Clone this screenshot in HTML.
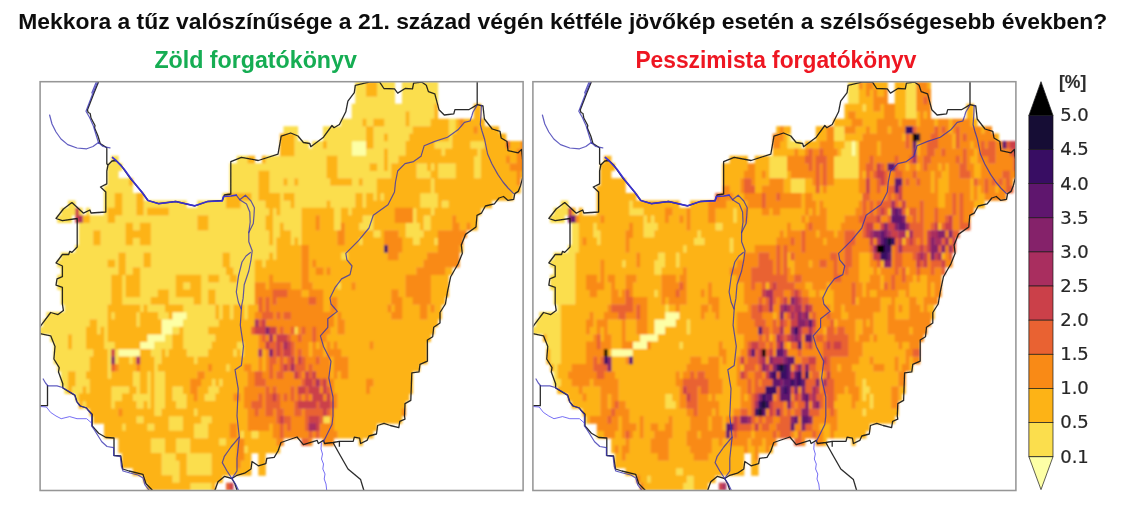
<!DOCTYPE html>
<html lang="hu"><head><meta charset="utf-8"><title>Tűz valószínűsége</title>
<style>html,body{margin:0;padding:0;background:#fff}svg{display:block}text{font-family:"Liberation Sans",sans-serif}.tk{font-family:"DejaVu Sans","Liberation Sans",sans-serif;font-size:18px;fill:#262626;stroke:#262626;stroke-width:.2px}</style></head><body>
<svg width="1133" height="529" viewBox="0 0 1133 529">
<defs>
<clipPath id="cl"><rect x="40.1" y="81.7" width="483.0" height="408.8"/></clipPath>
<clipPath id="cr"><rect x="532.9" y="81.7" width="483.0" height="408.8"/></clipPath>
<filter id="bl" x="-2%" y="-2%" width="104%" height="104%"><feGaussianBlur stdDeviation="0.8"/></filter>
<filter id="bf" x="-2%" y="-2%" width="104%" height="104%"><feGaussianBlur stdDeviation="0.4"/></filter>
<filter id="bs" x="-2%" y="-2%" width="104%" height="104%"><feGaussianBlur stdDeviation="0.6"/></filter>
<filter id="bt" x="-2%" y="-20%" width="104%" height="140%"><feGaussianBlur stdDeviation="0.55"/></filter>
</defs>
<rect width="1133" height="529" fill="#fff"/>
<g filter="url(#bt)">
<text x="18.3" y="29.2" font-size="22.6" font-weight="700" fill="#111" textLength="1089" lengthAdjust="spacingAndGlyphs">Mekkora a tűz valószínűsége a 21. század végén kétféle jövőkép esetén a szélsőségesebb években?</text>
<text x="154.4" y="67.9" font-size="23.5" font-weight="700" fill="#13ad52" textLength="202.5" lengthAdjust="spacingAndGlyphs">Zöld forgatókönyv</text>
<text x="635.4" y="67.9" font-size="23.5" font-weight="700" fill="#ee1620" textLength="281" lengthAdjust="spacingAndGlyphs">Pesszimista forgatókönyv</text>
<text x="1059" y="88.4" font-size="18.6" font-weight="700" fill="#2e2e2e" stroke="#2e2e2e" stroke-width=".15" textLength="27.3" lengthAdjust="spacingAndGlyphs">[%]</text>
</g>
<g clip-path="url(#cl)"><g filter="url(#bl)">
<path fill="#fdffa6" d="M351.68 140.99h14.66v7.73h-14.66zM351.68 148.42h14.66v7.73h-14.66zM172.18 311.88h14.66v7.73h-14.66zM161.41 319.31h21.84v7.73h-21.84zM161.41 326.74h11.07v7.73h-11.07zM147.05 334.17h18.25v7.73h-18.25zM139.87 341.60h14.66v7.73h-14.66zM118.33 349.03h21.84v7.73h-21.84z"/>
<path fill="#fbde4e" d="M355.27 81.55h11.07v7.73h-11.07zM376.81 81.55h18.25v7.73h-18.25zM401.94 81.55h36.20v7.73h-36.20zM355.27 88.98h11.07v7.73h-11.07zM376.81 88.98h18.25v7.73h-18.25zM401.94 88.98h36.20v7.73h-36.20zM355.27 96.41h39.79v7.73h-39.79zM401.94 96.41h36.20v7.73h-36.20zM351.68 103.84h82.87v7.73h-82.87zM351.68 111.27h54.15v7.73h-54.15zM409.12 111.27h25.43v7.73h-25.43zM340.91 118.70h21.84v7.73h-21.84zM366.04 118.70h7.48v7.73h-7.48zM383.99 118.70h21.84v7.73h-21.84zM409.12 118.70h21.84v7.73h-21.84zM448.61 118.70h7.48v7.73h-7.48zM283.47 126.13h14.66v7.73h-14.66zM322.96 126.13h43.38v7.73h-43.38zM373.22 126.13h39.79v7.73h-39.79zM448.61 126.13h7.48v7.73h-7.48zM294.24 133.56h3.89v7.73h-3.89zM322.96 133.56h43.38v7.73h-43.38zM373.22 133.56h11.07v7.73h-11.07zM387.58 133.56h21.84v7.73h-21.84zM448.61 133.56h3.89v7.73h-3.89zM294.24 140.99h14.66v7.73h-14.66zM312.19 140.99h11.07v7.73h-11.07zM326.55 140.99h25.43v7.73h-25.43zM373.22 140.99h32.61v7.73h-32.61zM434.25 140.99h18.25v7.73h-18.25zM470.15 140.99h14.66v7.73h-14.66zM294.24 148.42h57.74v7.73h-57.74zM366.04 148.42h18.25v7.73h-18.25zM387.58 148.42h18.25v7.73h-18.25zM441.43 148.42h3.89v7.73h-3.89zM477.33 148.42h3.89v7.73h-3.89zM111.15 155.85h7.48v7.73h-7.48zM236.80 155.85h11.07v7.73h-11.07zM265.52 155.85h61.33v7.73h-61.33zM337.32 155.85h46.97v7.73h-46.97zM387.58 155.85h11.07v7.73h-11.07zM473.74 155.85h7.48v7.73h-7.48zM107.56 163.28h14.66v7.73h-14.66zM229.62 163.28h97.23v7.73h-97.23zM337.32 163.28h32.61v7.73h-32.61zM376.81 163.28h7.48v7.73h-7.48zM387.58 163.28h3.89v7.73h-3.89zM416.30 163.28h11.07v7.73h-11.07zM430.66 163.28h3.89v7.73h-3.89zM437.84 163.28h18.25v7.73h-18.25zM473.74 163.28h7.48v7.73h-7.48zM107.56 170.71h11.07v7.73h-11.07zM229.62 170.71h29.02v7.73h-29.02zM269.11 170.71h57.74v7.73h-57.74zM337.32 170.71h54.15v7.73h-54.15zM416.30 170.71h14.66v7.73h-14.66zM437.84 170.71h18.25v7.73h-18.25zM473.74 170.71h7.48v7.73h-7.48zM107.56 178.14h21.84v7.73h-21.84zM229.62 178.14h29.02v7.73h-29.02zM269.11 178.14h14.66v7.73h-14.66zM287.06 178.14h7.48v7.73h-7.48zM297.83 178.14h32.61v7.73h-32.61zM351.68 178.14h7.48v7.73h-7.48zM362.45 178.14h14.66v7.73h-14.66zM430.66 178.14h3.89v7.73h-3.89zM103.97 185.57h29.02v7.73h-29.02zM229.62 185.57h29.02v7.73h-29.02zM269.11 185.57h108.00v7.73h-108.00zM430.66 185.57h3.89v7.73h-3.89zM103.97 193.00h11.07v7.73h-11.07zM121.92 193.00h14.66v7.73h-14.66zM222.44 193.00h3.89v7.73h-3.89zM251.16 193.00h7.48v7.73h-7.48zM279.88 193.00h3.89v7.73h-3.89zM294.24 193.00h61.33v7.73h-61.33zM362.45 193.00h3.89v7.73h-3.89zM373.22 193.00h3.89v7.73h-3.89zM380.40 193.00h3.89v7.73h-3.89zM419.89 193.00h18.25v7.73h-18.25zM68.07 200.43h7.48v7.73h-7.48zM103.97 200.43h11.07v7.73h-11.07zM121.92 200.43h14.66v7.73h-14.66zM143.46 200.43h43.38v7.73h-43.38zM197.31 200.43h29.02v7.73h-29.02zM240.39 200.43h25.43v7.73h-25.43zM279.88 200.43h11.07v7.73h-11.07zM294.24 200.43h32.61v7.73h-32.61zM330.14 200.43h25.43v7.73h-25.43zM362.45 200.43h3.89v7.73h-3.89zM419.89 200.43h18.25v7.73h-18.25zM441.43 200.43h7.48v7.73h-7.48zM60.89 207.86h14.66v7.73h-14.66zM78.84 207.86h3.89v7.73h-3.89zM86.02 207.86h3.89v7.73h-3.89zM103.97 207.86h3.89v7.73h-3.89zM121.92 207.86h14.66v7.73h-14.66zM143.46 207.86h3.89v7.73h-3.89zM168.59 207.86h100.82v7.73h-100.82zM272.70 207.86h3.89v7.73h-3.89zM279.88 207.86h21.84v7.73h-21.84zM333.73 207.86h7.48v7.73h-7.48zM348.09 207.86h3.89v7.73h-3.89zM412.71 207.86h3.89v7.73h-3.89zM430.66 207.86h3.89v7.73h-3.89zM57.30 215.29h14.66v7.73h-14.66zM89.61 215.29h18.25v7.73h-18.25zM114.74 215.29h82.87v7.73h-82.87zM208.08 215.29h57.74v7.73h-57.74zM272.70 215.29h29.02v7.73h-29.02zM333.73 215.29h7.48v7.73h-7.48zM362.45 215.29h11.07v7.73h-11.07zM412.71 215.29h3.89v7.73h-3.89zM423.48 215.29h7.48v7.73h-7.48zM78.84 222.72h46.97v7.73h-46.97zM132.69 222.72h7.48v7.73h-7.48zM150.64 222.72h46.97v7.73h-46.97zM208.08 222.72h57.74v7.73h-57.74zM272.70 222.72h7.48v7.73h-7.48zM283.47 222.72h18.25v7.73h-18.25zM333.73 222.72h7.48v7.73h-7.48zM358.86 222.72h14.66v7.73h-14.66zM405.53 222.72h14.66v7.73h-14.66zM423.48 222.72h7.48v7.73h-7.48zM78.84 230.15h14.66v7.73h-14.66zM100.38 230.15h25.43v7.73h-25.43zM150.64 230.15h118.77v7.73h-118.77zM272.70 230.15h7.48v7.73h-7.48zM290.65 230.15h11.07v7.73h-11.07zM373.22 230.15h7.48v7.73h-7.48zM405.53 230.15h18.25v7.73h-18.25zM78.84 237.58h14.66v7.73h-14.66zM100.38 237.58h25.43v7.73h-25.43zM132.69 237.58h7.48v7.73h-7.48zM150.64 237.58h118.77v7.73h-118.77zM272.70 237.58h3.89v7.73h-3.89zM290.65 237.58h3.89v7.73h-3.89zM297.83 237.58h3.89v7.73h-3.89zM358.86 237.58h3.89v7.73h-3.89zM412.71 237.58h7.48v7.73h-7.48zM434.25 237.58h3.89v7.73h-3.89zM75.25 245.01h201.34v7.73h-201.34zM60.89 252.44h57.74v7.73h-57.74zM125.51 252.44h18.25v7.73h-18.25zM150.64 252.44h72.10v7.73h-72.10zM229.62 252.44h39.79v7.73h-39.79zM272.70 252.44h3.89v7.73h-3.89zM340.91 252.44h7.48v7.73h-7.48zM57.30 259.87h50.56v7.73h-50.56zM114.74 259.87h3.89v7.73h-3.89zM125.51 259.87h18.25v7.73h-18.25zM150.64 259.87h72.10v7.73h-72.10zM229.62 259.87h25.43v7.73h-25.43zM261.93 259.87h3.89v7.73h-3.89zM60.89 267.30h57.74v7.73h-57.74zM125.51 267.30h7.48v7.73h-7.48zM139.87 267.30h86.46v7.73h-86.46zM233.21 267.30h21.84v7.73h-21.84zM57.30 274.73h54.15v7.73h-54.15zM121.92 274.73h3.89v7.73h-3.89zM139.87 274.73h36.20v7.73h-36.20zM200.90 274.73h7.48v7.73h-7.48zM218.85 274.73h11.07v7.73h-11.07zM236.80 274.73h18.25v7.73h-18.25zM57.30 282.16h54.15v7.73h-54.15zM121.92 282.16h3.89v7.73h-3.89zM139.87 282.16h36.20v7.73h-36.20zM182.95 282.16h7.48v7.73h-7.48zM200.90 282.16h54.15v7.73h-54.15zM337.32 282.16h3.89v7.73h-3.89zM60.89 289.59h50.56v7.73h-50.56zM121.92 289.59h3.89v7.73h-3.89zM139.87 289.59h18.25v7.73h-18.25zM168.59 289.59h7.48v7.73h-7.48zM200.90 289.59h7.48v7.73h-7.48zM215.26 289.59h39.79v7.73h-39.79zM60.89 297.02h50.56v7.73h-50.56zM121.92 297.02h29.02v7.73h-29.02zM168.59 297.02h25.43v7.73h-25.43zM200.90 297.02h7.48v7.73h-7.48zM215.26 297.02h39.79v7.73h-39.79zM64.48 304.45h43.38v7.73h-43.38zM139.87 304.45h3.89v7.73h-3.89zM147.05 304.45h18.25v7.73h-18.25zM182.95 304.45h32.61v7.73h-32.61zM218.85 304.45h3.89v7.73h-3.89zM229.62 304.45h3.89v7.73h-3.89zM243.98 304.45h3.89v7.73h-3.89zM46.53 311.88h61.33v7.73h-61.33zM111.15 311.88h3.89v7.73h-3.89zM136.28 311.88h3.89v7.73h-3.89zM157.82 311.88h11.07v7.73h-11.07zM186.54 311.88h29.02v7.73h-29.02zM218.85 311.88h3.89v7.73h-3.89zM229.62 311.88h3.89v7.73h-3.89zM243.98 311.88h3.89v7.73h-3.89zM42.94 319.31h46.97v7.73h-46.97zM96.79 319.31h11.07v7.73h-11.07zM136.28 319.31h3.89v7.73h-3.89zM182.95 319.31h36.20v7.73h-36.20zM39.35 326.74h46.97v7.73h-46.97zM96.79 326.74h3.89v7.73h-3.89zM103.97 326.74h3.89v7.73h-3.89zM172.18 326.74h7.48v7.73h-7.48zM182.95 326.74h25.43v7.73h-25.43zM294.24 326.74h3.89v7.73h-3.89zM50.12 334.17h18.25v7.73h-18.25zM71.66 334.17h14.66v7.73h-14.66zM103.97 334.17h3.89v7.73h-3.89zM165.00 334.17h7.48v7.73h-7.48zM182.95 334.17h32.61v7.73h-32.61zM53.71 341.60h14.66v7.73h-14.66zM71.66 341.60h14.66v7.73h-14.66zM103.97 341.60h11.07v7.73h-11.07zM154.23 341.60h18.25v7.73h-18.25zM182.95 341.60h29.02v7.73h-29.02zM236.80 341.60h7.48v7.73h-7.48zM53.71 349.03h39.79v7.73h-39.79zM107.56 349.03h3.89v7.73h-3.89zM114.74 349.03h3.89v7.73h-3.89zM150.64 349.03h11.07v7.73h-11.07zM165.00 349.03h3.89v7.73h-3.89zM186.54 349.03h21.84v7.73h-21.84zM233.21 349.03h3.89v7.73h-3.89zM240.39 349.03h3.89v7.73h-3.89zM53.71 356.46h36.20v7.73h-36.20zM107.56 356.46h3.89v7.73h-3.89zM114.74 356.46h3.89v7.73h-3.89zM129.10 356.46h3.89v7.73h-3.89zM154.23 356.46h7.48v7.73h-7.48zM193.72 356.46h3.89v7.73h-3.89zM57.30 363.89h32.61v7.73h-32.61zM107.56 363.89h3.89v7.73h-3.89zM154.23 363.89h3.89v7.73h-3.89zM226.03 363.89h3.89v7.73h-3.89zM60.89 371.32h7.48v7.73h-7.48zM75.25 371.32h11.07v7.73h-11.07zM107.56 371.32h3.89v7.73h-3.89zM132.69 371.32h7.48v7.73h-7.48zM147.05 371.32h3.89v7.73h-3.89zM154.23 371.32h11.07v7.73h-11.07zM60.89 378.75h7.48v7.73h-7.48zM75.25 378.75h14.66v7.73h-14.66zM132.69 378.75h7.48v7.73h-7.48zM147.05 378.75h3.89v7.73h-3.89zM154.23 378.75h11.07v7.73h-11.07zM211.67 378.75h3.89v7.73h-3.89zM218.85 378.75h3.89v7.73h-3.89zM64.48 386.18h3.89v7.73h-3.89zM71.66 386.18h11.07v7.73h-11.07zM86.02 386.18h3.89v7.73h-3.89zM111.15 386.18h18.25v7.73h-18.25zM136.28 386.18h3.89v7.73h-3.89zM147.05 386.18h3.89v7.73h-3.89zM154.23 386.18h11.07v7.73h-11.07zM172.18 386.18h11.07v7.73h-11.07zM208.08 386.18h11.07v7.73h-11.07zM75.25 393.61h3.89v7.73h-3.89zM111.15 393.61h11.07v7.73h-11.07zM132.69 393.61h18.25v7.73h-18.25zM154.23 393.61h11.07v7.73h-11.07zM172.18 393.61h14.66v7.73h-14.66zM204.49 393.61h11.07v7.73h-11.07zM82.43 401.04h3.89v7.73h-3.89zM111.15 401.04h3.89v7.73h-3.89zM136.28 401.04h7.48v7.73h-7.48zM147.05 401.04h3.89v7.73h-3.89zM154.23 401.04h11.07v7.73h-11.07zM175.77 401.04h11.07v7.73h-11.07zM154.23 408.47h7.48v7.73h-7.48zM193.72 408.47h3.89v7.73h-3.89zM136.28 415.90h7.48v7.73h-7.48zM168.59 415.90h14.66v7.73h-14.66zM200.90 415.90h11.07v7.73h-11.07zM322.96 415.90h7.48v7.73h-7.48zM121.92 423.33h3.89v7.73h-3.89zM147.05 423.33h7.48v7.73h-7.48zM168.59 423.33h14.66v7.73h-14.66zM193.72 423.33h14.66v7.73h-14.66zM193.72 430.76h14.66v7.73h-14.66zM240.39 430.76h3.89v7.73h-3.89zM251.16 430.76h7.48v7.73h-7.48zM150.64 438.19h14.66v7.73h-14.66zM175.77 438.19h14.66v7.73h-14.66zM218.85 438.19h7.48v7.73h-7.48zM150.64 445.62h14.66v7.73h-14.66zM175.77 445.62h14.66v7.73h-14.66zM243.98 445.62h3.89v7.73h-3.89zM161.41 453.05h14.66v7.73h-14.66zM186.54 453.05h25.43v7.73h-25.43zM161.41 460.48h18.25v7.73h-18.25zM186.54 460.48h25.43v7.73h-25.43zM161.41 467.91h18.25v7.73h-18.25zM186.54 467.91h25.43v7.73h-25.43zM172.18 475.34h7.48v7.73h-7.48zM190.13 482.77h21.84v7.73h-21.84z"/>
<path fill="#fdb316" d="M366.04 81.55h11.07v7.73h-11.07zM366.04 88.98h11.07v7.73h-11.07zM434.25 103.84h3.89v7.73h-3.89zM473.74 103.84h7.48v7.73h-7.48zM405.53 111.27h3.89v7.73h-3.89zM434.25 111.27h3.89v7.73h-3.89zM473.74 111.27h7.48v7.73h-7.48zM362.45 118.70h3.89v7.73h-3.89zM373.22 118.70h11.07v7.73h-11.07zM405.53 118.70h3.89v7.73h-3.89zM430.66 118.70h18.25v7.73h-18.25zM455.79 118.70h3.89v7.73h-3.89zM462.97 118.70h21.84v7.73h-21.84zM366.04 126.13h7.48v7.73h-7.48zM412.71 126.13h36.20v7.73h-36.20zM455.79 126.13h18.25v7.73h-18.25zM477.33 126.13h21.84v7.73h-21.84zM279.88 133.56h14.66v7.73h-14.66zM366.04 133.56h7.48v7.73h-7.48zM383.99 133.56h3.89v7.73h-3.89zM409.12 133.56h39.79v7.73h-39.79zM452.20 133.56h54.15v7.73h-54.15zM279.88 140.99h14.66v7.73h-14.66zM322.96 140.99h3.89v7.73h-3.89zM366.04 140.99h7.48v7.73h-7.48zM405.53 140.99h29.02v7.73h-29.02zM452.20 140.99h18.25v7.73h-18.25zM484.51 140.99h21.84v7.73h-21.84zM509.64 140.99h11.07v7.73h-11.07zM279.88 148.42h14.66v7.73h-14.66zM383.99 148.42h3.89v7.73h-3.89zM405.53 148.42h36.20v7.73h-36.20zM445.02 148.42h32.61v7.73h-32.61zM480.92 148.42h36.20v7.73h-36.20zM247.57 155.85h7.48v7.73h-7.48zM261.93 155.85h3.89v7.73h-3.89zM326.55 155.85h11.07v7.73h-11.07zM383.99 155.85h3.89v7.73h-3.89zM398.35 155.85h75.69v7.73h-75.69zM480.92 155.85h25.43v7.73h-25.43zM509.64 155.85h7.48v7.73h-7.48zM326.55 163.28h11.07v7.73h-11.07zM369.63 163.28h7.48v7.73h-7.48zM383.99 163.28h3.89v7.73h-3.89zM391.17 163.28h25.43v7.73h-25.43zM427.07 163.28h3.89v7.73h-3.89zM434.25 163.28h3.89v7.73h-3.89zM455.79 163.28h18.25v7.73h-18.25zM480.92 163.28h29.02v7.73h-29.02zM258.34 170.71h11.07v7.73h-11.07zM326.55 170.71h11.07v7.73h-11.07zM391.17 170.71h25.43v7.73h-25.43zM430.66 170.71h7.48v7.73h-7.48zM455.79 170.71h18.25v7.73h-18.25zM480.92 170.71h36.20v7.73h-36.20zM520.41 170.71h3.89v7.73h-3.89zM129.10 178.14h3.89v7.73h-3.89zM258.34 178.14h11.07v7.73h-11.07zM283.47 178.14h3.89v7.73h-3.89zM294.24 178.14h3.89v7.73h-3.89zM330.14 178.14h21.84v7.73h-21.84zM358.86 178.14h3.89v7.73h-3.89zM376.81 178.14h54.15v7.73h-54.15zM434.25 178.14h82.87v7.73h-82.87zM258.34 185.57h11.07v7.73h-11.07zM376.81 185.57h54.15v7.73h-54.15zM434.25 185.57h86.46v7.73h-86.46zM114.74 193.00h7.48v7.73h-7.48zM136.28 193.00h7.48v7.73h-7.48zM226.03 193.00h25.43v7.73h-25.43zM258.34 193.00h21.84v7.73h-21.84zM283.47 193.00h11.07v7.73h-11.07zM355.27 193.00h7.48v7.73h-7.48zM366.04 193.00h7.48v7.73h-7.48zM376.81 193.00h3.89v7.73h-3.89zM383.99 193.00h36.20v7.73h-36.20zM437.84 193.00h75.69v7.73h-75.69zM114.74 200.43h7.48v7.73h-7.48zM136.28 200.43h7.48v7.73h-7.48zM226.03 200.43h14.66v7.73h-14.66zM265.52 200.43h14.66v7.73h-14.66zM290.65 200.43h3.89v7.73h-3.89zM326.55 200.43h3.89v7.73h-3.89zM355.27 200.43h7.48v7.73h-7.48zM366.04 200.43h54.15v7.73h-54.15zM437.84 200.43h3.89v7.73h-3.89zM448.61 200.43h43.38v7.73h-43.38zM107.56 207.86h14.66v7.73h-14.66zM136.28 207.86h7.48v7.73h-7.48zM147.05 207.86h21.84v7.73h-21.84zM269.11 207.86h3.89v7.73h-3.89zM276.29 207.86h3.89v7.73h-3.89zM301.42 207.86h32.61v7.73h-32.61zM340.91 207.86h7.48v7.73h-7.48zM351.68 207.86h43.38v7.73h-43.38zM416.30 207.86h14.66v7.73h-14.66zM434.25 207.86h46.97v7.73h-46.97zM82.43 215.29h7.48v7.73h-7.48zM107.56 215.29h7.48v7.73h-7.48zM197.31 215.29h11.07v7.73h-11.07zM265.52 215.29h7.48v7.73h-7.48zM301.42 215.29h14.66v7.73h-14.66zM319.37 215.29h14.66v7.73h-14.66zM340.91 215.29h21.84v7.73h-21.84zM373.22 215.29h21.84v7.73h-21.84zM416.30 215.29h7.48v7.73h-7.48zM430.66 215.29h21.84v7.73h-21.84zM455.79 215.29h21.84v7.73h-21.84zM125.51 222.72h7.48v7.73h-7.48zM139.87 222.72h11.07v7.73h-11.07zM197.31 222.72h11.07v7.73h-11.07zM265.52 222.72h7.48v7.73h-7.48zM279.88 222.72h3.89v7.73h-3.89zM301.42 222.72h14.66v7.73h-14.66zM319.37 222.72h14.66v7.73h-14.66zM344.50 222.72h14.66v7.73h-14.66zM373.22 222.72h32.61v7.73h-32.61zM419.89 222.72h3.89v7.73h-3.89zM430.66 222.72h21.84v7.73h-21.84zM459.38 222.72h7.48v7.73h-7.48zM470.15 222.72h7.48v7.73h-7.48zM93.20 230.15h7.48v7.73h-7.48zM125.51 230.15h25.43v7.73h-25.43zM269.11 230.15h3.89v7.73h-3.89zM279.88 230.15h11.07v7.73h-11.07zM301.42 230.15h36.20v7.73h-36.20zM344.50 230.15h29.02v7.73h-29.02zM380.40 230.15h3.89v7.73h-3.89zM398.35 230.15h7.48v7.73h-7.48zM423.48 230.15h14.66v7.73h-14.66zM93.20 237.58h7.48v7.73h-7.48zM125.51 237.58h7.48v7.73h-7.48zM139.87 237.58h11.07v7.73h-11.07zM269.11 237.58h3.89v7.73h-3.89zM276.29 237.58h14.66v7.73h-14.66zM294.24 237.58h3.89v7.73h-3.89zM301.42 237.58h36.20v7.73h-36.20zM344.50 237.58h14.66v7.73h-14.66zM362.45 237.58h21.84v7.73h-21.84zM401.94 237.58h11.07v7.73h-11.07zM419.89 237.58h14.66v7.73h-14.66zM276.29 245.01h25.43v7.73h-25.43zM308.60 245.01h75.69v7.73h-75.69zM401.94 245.01h36.20v7.73h-36.20zM459.38 245.01h3.89v7.73h-3.89zM118.33 252.44h7.48v7.73h-7.48zM143.46 252.44h7.48v7.73h-7.48zM222.44 252.44h7.48v7.73h-7.48zM269.11 252.44h3.89v7.73h-3.89zM276.29 252.44h25.43v7.73h-25.43zM308.60 252.44h32.61v7.73h-32.61zM348.09 252.44h39.79v7.73h-39.79zM398.35 252.44h29.02v7.73h-29.02zM107.56 259.87h7.48v7.73h-7.48zM118.33 259.87h7.48v7.73h-7.48zM143.46 259.87h7.48v7.73h-7.48zM222.44 259.87h7.48v7.73h-7.48zM254.75 259.87h7.48v7.73h-7.48zM265.52 259.87h36.20v7.73h-36.20zM308.60 259.87h3.89v7.73h-3.89zM315.78 259.87h108.00v7.73h-108.00zM118.33 267.30h7.48v7.73h-7.48zM132.69 267.30h7.48v7.73h-7.48zM226.03 267.30h7.48v7.73h-7.48zM254.75 267.30h46.97v7.73h-46.97zM308.60 267.30h7.48v7.73h-7.48zM322.96 267.30h3.89v7.73h-3.89zM330.14 267.30h86.46v7.73h-86.46zM445.02 267.30h7.48v7.73h-7.48zM111.15 274.73h11.07v7.73h-11.07zM125.51 274.73h14.66v7.73h-14.66zM175.77 274.73h25.43v7.73h-25.43zM208.08 274.73h11.07v7.73h-11.07zM229.62 274.73h7.48v7.73h-7.48zM254.75 274.73h14.66v7.73h-14.66zM272.70 274.73h29.02v7.73h-29.02zM308.60 274.73h97.23v7.73h-97.23zM430.66 274.73h18.25v7.73h-18.25zM111.15 282.16h11.07v7.73h-11.07zM125.51 282.16h14.66v7.73h-14.66zM175.77 282.16h7.48v7.73h-7.48zM190.13 282.16h11.07v7.73h-11.07zM265.52 282.16h3.89v7.73h-3.89zM290.65 282.16h11.07v7.73h-11.07zM312.19 282.16h25.43v7.73h-25.43zM340.91 282.16h11.07v7.73h-11.07zM355.27 282.16h50.56v7.73h-50.56zM430.66 282.16h18.25v7.73h-18.25zM111.15 289.59h11.07v7.73h-11.07zM125.51 289.59h14.66v7.73h-14.66zM157.82 289.59h11.07v7.73h-11.07zM175.77 289.59h25.43v7.73h-25.43zM208.08 289.59h7.48v7.73h-7.48zM301.42 289.59h7.48v7.73h-7.48zM322.96 289.59h68.51v7.73h-68.51zM398.35 289.59h7.48v7.73h-7.48zM430.66 289.59h18.25v7.73h-18.25zM111.15 297.02h11.07v7.73h-11.07zM150.64 297.02h18.25v7.73h-18.25zM193.72 297.02h7.48v7.73h-7.48zM208.08 297.02h7.48v7.73h-7.48zM322.96 297.02h7.48v7.73h-7.48zM337.32 297.02h54.15v7.73h-54.15zM401.94 297.02h11.07v7.73h-11.07zM430.66 297.02h14.66v7.73h-14.66zM107.56 304.45h32.61v7.73h-32.61zM143.46 304.45h3.89v7.73h-3.89zM165.00 304.45h18.25v7.73h-18.25zM215.26 304.45h3.89v7.73h-3.89zM222.44 304.45h7.48v7.73h-7.48zM233.21 304.45h11.07v7.73h-11.07zM247.57 304.45h11.07v7.73h-11.07zM322.96 304.45h7.48v7.73h-7.48zM337.32 304.45h50.56v7.73h-50.56zM391.17 304.45h3.89v7.73h-3.89zM401.94 304.45h18.25v7.73h-18.25zM427.07 304.45h3.89v7.73h-3.89zM434.25 304.45h7.48v7.73h-7.48zM107.56 311.88h3.89v7.73h-3.89zM114.74 311.88h21.84v7.73h-21.84zM139.87 311.88h18.25v7.73h-18.25zM168.59 311.88h3.89v7.73h-3.89zM215.26 311.88h3.89v7.73h-3.89zM222.44 311.88h7.48v7.73h-7.48zM233.21 311.88h11.07v7.73h-11.07zM247.57 311.88h7.48v7.73h-7.48zM333.73 311.88h3.89v7.73h-3.89zM340.91 311.88h50.56v7.73h-50.56zM401.94 311.88h18.25v7.73h-18.25zM427.07 311.88h14.66v7.73h-14.66zM89.61 319.31h7.48v7.73h-7.48zM107.56 319.31h29.02v7.73h-29.02zM139.87 319.31h21.84v7.73h-21.84zM218.85 319.31h36.20v7.73h-36.20zM333.73 319.31h3.89v7.73h-3.89zM344.50 319.31h93.64v7.73h-93.64zM86.02 326.74h11.07v7.73h-11.07zM100.38 326.74h3.89v7.73h-3.89zM107.56 326.74h54.15v7.73h-54.15zM179.36 326.74h3.89v7.73h-3.89zM208.08 326.74h43.38v7.73h-43.38zM330.14 326.74h7.48v7.73h-7.48zM344.50 326.74h90.05v7.73h-90.05zM68.07 334.17h3.89v7.73h-3.89zM86.02 334.17h18.25v7.73h-18.25zM107.56 334.17h39.79v7.73h-39.79zM172.18 334.17h11.07v7.73h-11.07zM215.26 334.17h43.38v7.73h-43.38zM326.55 334.17h104.41v7.73h-104.41zM68.07 341.60h3.89v7.73h-3.89zM86.02 341.60h18.25v7.73h-18.25zM114.74 341.60h25.43v7.73h-25.43zM172.18 341.60h11.07v7.73h-11.07zM211.67 341.60h25.43v7.73h-25.43zM243.98 341.60h14.66v7.73h-14.66zM308.60 341.60h3.89v7.73h-3.89zM315.78 341.60h3.89v7.73h-3.89zM322.96 341.60h3.89v7.73h-3.89zM330.14 341.60h3.89v7.73h-3.89zM337.32 341.60h32.61v7.73h-32.61zM373.22 341.60h54.15v7.73h-54.15zM93.20 349.03h14.66v7.73h-14.66zM139.87 349.03h11.07v7.73h-11.07zM161.41 349.03h3.89v7.73h-3.89zM168.59 349.03h18.25v7.73h-18.25zM208.08 349.03h25.43v7.73h-25.43zM236.80 349.03h3.89v7.73h-3.89zM243.98 349.03h14.66v7.73h-14.66zM261.93 349.03h3.89v7.73h-3.89zM308.60 349.03h3.89v7.73h-3.89zM322.96 349.03h3.89v7.73h-3.89zM340.91 349.03h86.46v7.73h-86.46zM89.61 356.46h18.25v7.73h-18.25zM118.33 356.46h11.07v7.73h-11.07zM132.69 356.46h3.89v7.73h-3.89zM139.87 356.46h14.66v7.73h-14.66zM161.41 356.46h32.61v7.73h-32.61zM197.31 356.46h61.33v7.73h-61.33zM261.93 356.46h3.89v7.73h-3.89zM330.14 356.46h3.89v7.73h-3.89zM348.09 356.46h79.28v7.73h-79.28zM89.61 363.89h18.25v7.73h-18.25zM118.33 363.89h18.25v7.73h-18.25zM139.87 363.89h14.66v7.73h-14.66zM157.82 363.89h50.56v7.73h-50.56zM211.67 363.89h14.66v7.73h-14.66zM229.62 363.89h14.66v7.73h-14.66zM251.16 363.89h7.48v7.73h-7.48zM261.93 363.89h3.89v7.73h-3.89zM330.14 363.89h3.89v7.73h-3.89zM348.09 363.89h72.10v7.73h-72.10zM68.07 371.32h7.48v7.73h-7.48zM86.02 371.32h21.84v7.73h-21.84zM111.15 371.32h21.84v7.73h-21.84zM139.87 371.32h7.48v7.73h-7.48zM150.64 371.32h3.89v7.73h-3.89zM165.00 371.32h32.61v7.73h-32.61zM204.49 371.32h43.38v7.73h-43.38zM330.14 371.32h3.89v7.73h-3.89zM337.32 371.32h3.89v7.73h-3.89zM348.09 371.32h64.92v7.73h-64.92zM68.07 378.75h7.48v7.73h-7.48zM89.61 378.75h43.38v7.73h-43.38zM139.87 378.75h7.48v7.73h-7.48zM150.64 378.75h3.89v7.73h-3.89zM165.00 378.75h25.43v7.73h-25.43zM200.90 378.75h11.07v7.73h-11.07zM215.26 378.75h3.89v7.73h-3.89zM222.44 378.75h25.43v7.73h-25.43zM333.73 378.75h32.61v7.73h-32.61zM373.22 378.75h39.79v7.73h-39.79zM68.07 386.18h3.89v7.73h-3.89zM82.43 386.18h3.89v7.73h-3.89zM89.61 386.18h21.84v7.73h-21.84zM129.10 386.18h7.48v7.73h-7.48zM139.87 386.18h7.48v7.73h-7.48zM150.64 386.18h3.89v7.73h-3.89zM165.00 386.18h7.48v7.73h-7.48zM182.95 386.18h7.48v7.73h-7.48zM197.31 386.18h11.07v7.73h-11.07zM218.85 386.18h25.43v7.73h-25.43zM333.73 386.18h32.61v7.73h-32.61zM369.63 386.18h43.38v7.73h-43.38zM78.84 393.61h32.61v7.73h-32.61zM121.92 393.61h11.07v7.73h-11.07zM150.64 393.61h3.89v7.73h-3.89zM165.00 393.61h7.48v7.73h-7.48zM186.54 393.61h7.48v7.73h-7.48zM197.31 393.61h7.48v7.73h-7.48zM215.26 393.61h18.25v7.73h-18.25zM240.39 393.61h3.89v7.73h-3.89zM337.32 393.61h72.10v7.73h-72.10zM78.84 401.04h3.89v7.73h-3.89zM86.02 401.04h25.43v7.73h-25.43zM114.74 401.04h21.84v7.73h-21.84zM143.46 401.04h3.89v7.73h-3.89zM150.64 401.04h3.89v7.73h-3.89zM165.00 401.04h11.07v7.73h-11.07zM186.54 401.04h57.74v7.73h-57.74zM337.32 401.04h68.51v7.73h-68.51zM89.61 408.47h29.02v7.73h-29.02zM121.92 408.47h32.61v7.73h-32.61zM161.41 408.47h32.61v7.73h-32.61zM197.31 408.47h50.56v7.73h-50.56zM333.73 408.47h68.51v7.73h-68.51zM93.20 415.90h43.38v7.73h-43.38zM143.46 415.90h25.43v7.73h-25.43zM182.95 415.90h18.25v7.73h-18.25zM211.67 415.90h36.20v7.73h-36.20zM333.73 415.90h68.51v7.73h-68.51zM103.97 423.33h18.25v7.73h-18.25zM125.51 423.33h21.84v7.73h-21.84zM154.23 423.33h14.66v7.73h-14.66zM182.95 423.33h11.07v7.73h-11.07zM208.08 423.33h21.84v7.73h-21.84zM236.80 423.33h11.07v7.73h-11.07zM269.11 423.33h3.89v7.73h-3.89zM333.73 423.33h43.38v7.73h-43.38zM103.97 430.76h90.05v7.73h-90.05zM208.08 430.76h21.84v7.73h-21.84zM236.80 430.76h3.89v7.73h-3.89zM243.98 430.76h7.48v7.73h-7.48zM258.34 430.76h14.66v7.73h-14.66zM337.32 430.76h36.20v7.73h-36.20zM118.33 438.19h32.61v7.73h-32.61zM165.00 438.19h11.07v7.73h-11.07zM190.13 438.19h29.02v7.73h-29.02zM226.03 438.19h11.07v7.73h-11.07zM243.98 438.19h32.61v7.73h-32.61zM358.86 438.19h3.89v7.73h-3.89zM118.33 445.62h32.61v7.73h-32.61zM165.00 445.62h11.07v7.73h-11.07zM190.13 445.62h46.97v7.73h-46.97zM247.57 445.62h32.61v7.73h-32.61zM121.92 453.05h39.79v7.73h-39.79zM175.77 453.05h11.07v7.73h-11.07zM211.67 453.05h25.43v7.73h-25.43zM243.98 453.05h7.48v7.73h-7.48zM258.34 453.05h7.48v7.73h-7.48zM121.92 460.48h39.79v7.73h-39.79zM179.36 460.48h7.48v7.73h-7.48zM211.67 460.48h25.43v7.73h-25.43zM240.39 460.48h11.07v7.73h-11.07zM258.34 460.48h7.48v7.73h-7.48zM132.69 467.91h29.02v7.73h-29.02zM179.36 467.91h7.48v7.73h-7.48zM211.67 467.91h39.79v7.73h-39.79zM258.34 467.91h7.48v7.73h-7.48zM143.46 475.34h29.02v7.73h-29.02zM179.36 475.34h43.38v7.73h-43.38zM147.05 482.77h43.38v7.73h-43.38zM211.67 482.77h3.89v7.73h-3.89z"/>
<path fill="#f98a12" d="M459.38 118.70h3.89v7.73h-3.89zM473.74 126.13h3.89v7.73h-3.89zM520.41 140.99h3.89v7.73h-3.89zM516.82 148.42h7.48v7.73h-7.48zM506.05 155.85h3.89v7.73h-3.89zM516.82 155.85h7.48v7.73h-7.48zM509.64 163.28h14.66v7.73h-14.66zM516.82 170.71h3.89v7.73h-3.89zM516.82 178.14h3.89v7.73h-3.89zM394.76 207.86h18.25v7.73h-18.25zM315.78 215.29h3.89v7.73h-3.89zM394.76 215.29h18.25v7.73h-18.25zM452.20 215.29h3.89v7.73h-3.89zM315.78 222.72h3.89v7.73h-3.89zM340.91 222.72h3.89v7.73h-3.89zM452.20 222.72h7.48v7.73h-7.48zM466.56 222.72h3.89v7.73h-3.89zM337.32 230.15h7.48v7.73h-7.48zM383.99 230.15h14.66v7.73h-14.66zM437.84 230.15h29.02v7.73h-29.02zM337.32 237.58h7.48v7.73h-7.48zM383.99 237.58h18.25v7.73h-18.25zM437.84 237.58h25.43v7.73h-25.43zM301.42 245.01h7.48v7.73h-7.48zM387.58 245.01h14.66v7.73h-14.66zM437.84 245.01h21.84v7.73h-21.84zM301.42 252.44h7.48v7.73h-7.48zM387.58 252.44h11.07v7.73h-11.07zM427.07 252.44h32.61v7.73h-32.61zM301.42 259.87h7.48v7.73h-7.48zM312.19 259.87h3.89v7.73h-3.89zM423.48 259.87h36.20v7.73h-36.20zM301.42 267.30h7.48v7.73h-7.48zM315.78 267.30h7.48v7.73h-7.48zM326.55 267.30h3.89v7.73h-3.89zM416.30 267.30h29.02v7.73h-29.02zM269.11 274.73h3.89v7.73h-3.89zM301.42 274.73h7.48v7.73h-7.48zM405.53 274.73h25.43v7.73h-25.43zM254.75 282.16h11.07v7.73h-11.07zM269.11 282.16h21.84v7.73h-21.84zM301.42 282.16h11.07v7.73h-11.07zM351.68 282.16h3.89v7.73h-3.89zM405.53 282.16h25.43v7.73h-25.43zM254.75 289.59h18.25v7.73h-18.25zM287.06 289.59h14.66v7.73h-14.66zM308.60 289.59h14.66v7.73h-14.66zM391.17 289.59h7.48v7.73h-7.48zM405.53 289.59h25.43v7.73h-25.43zM254.75 297.02h3.89v7.73h-3.89zM261.93 297.02h3.89v7.73h-3.89zM269.11 297.02h3.89v7.73h-3.89zM276.29 297.02h32.61v7.73h-32.61zM315.78 297.02h7.48v7.73h-7.48zM330.14 297.02h7.48v7.73h-7.48zM391.17 297.02h11.07v7.73h-11.07zM412.71 297.02h18.25v7.73h-18.25zM261.93 304.45h3.89v7.73h-3.89zM269.11 304.45h54.15v7.73h-54.15zM330.14 304.45h7.48v7.73h-7.48zM387.58 304.45h3.89v7.73h-3.89zM394.76 304.45h7.48v7.73h-7.48zM419.89 304.45h7.48v7.73h-7.48zM430.66 304.45h3.89v7.73h-3.89zM254.75 311.88h7.48v7.73h-7.48zM272.70 311.88h3.89v7.73h-3.89zM279.88 311.88h3.89v7.73h-3.89zM290.65 311.88h43.38v7.73h-43.38zM337.32 311.88h3.89v7.73h-3.89zM391.17 311.88h11.07v7.73h-11.07zM419.89 311.88h7.48v7.73h-7.48zM265.52 319.31h68.51v7.73h-68.51zM337.32 319.31h7.48v7.73h-7.48zM276.29 326.74h3.89v7.73h-3.89zM283.47 326.74h7.48v7.73h-7.48zM297.83 326.74h3.89v7.73h-3.89zM305.01 326.74h7.48v7.73h-7.48zM315.78 326.74h14.66v7.73h-14.66zM337.32 326.74h7.48v7.73h-7.48zM258.34 334.17h3.89v7.73h-3.89zM265.52 334.17h3.89v7.73h-3.89zM272.70 334.17h3.89v7.73h-3.89zM290.65 334.17h7.48v7.73h-7.48zM301.42 334.17h11.07v7.73h-11.07zM315.78 334.17h11.07v7.73h-11.07zM258.34 341.60h7.48v7.73h-7.48zM294.24 341.60h14.66v7.73h-14.66zM312.19 341.60h3.89v7.73h-3.89zM319.37 341.60h3.89v7.73h-3.89zM326.55 341.60h3.89v7.73h-3.89zM333.73 341.60h3.89v7.73h-3.89zM369.63 341.60h3.89v7.73h-3.89zM265.52 349.03h3.89v7.73h-3.89zM294.24 349.03h3.89v7.73h-3.89zM301.42 349.03h7.48v7.73h-7.48zM312.19 349.03h11.07v7.73h-11.07zM326.55 349.03h14.66v7.73h-14.66zM258.34 356.46h3.89v7.73h-3.89zM265.52 356.46h3.89v7.73h-3.89zM276.29 356.46h3.89v7.73h-3.89zM283.47 356.46h3.89v7.73h-3.89zM294.24 356.46h3.89v7.73h-3.89zM305.01 356.46h11.07v7.73h-11.07zM319.37 356.46h11.07v7.73h-11.07zM333.73 356.46h14.66v7.73h-14.66zM114.74 363.89h3.89v7.73h-3.89zM136.28 363.89h3.89v7.73h-3.89zM208.08 363.89h3.89v7.73h-3.89zM243.98 363.89h7.48v7.73h-7.48zM258.34 363.89h3.89v7.73h-3.89zM265.52 363.89h3.89v7.73h-3.89zM272.70 363.89h7.48v7.73h-7.48zM305.01 363.89h3.89v7.73h-3.89zM312.19 363.89h18.25v7.73h-18.25zM333.73 363.89h14.66v7.73h-14.66zM197.31 371.32h7.48v7.73h-7.48zM247.57 371.32h7.48v7.73h-7.48zM261.93 371.32h7.48v7.73h-7.48zM272.70 371.32h3.89v7.73h-3.89zM283.47 371.32h11.07v7.73h-11.07zM301.42 371.32h3.89v7.73h-3.89zM315.78 371.32h14.66v7.73h-14.66zM333.73 371.32h3.89v7.73h-3.89zM340.91 371.32h7.48v7.73h-7.48zM190.13 378.75h11.07v7.73h-11.07zM247.57 378.75h7.48v7.73h-7.48zM265.52 378.75h36.20v7.73h-36.20zM326.55 378.75h7.48v7.73h-7.48zM366.04 378.75h7.48v7.73h-7.48zM190.13 386.18h7.48v7.73h-7.48zM243.98 386.18h21.84v7.73h-21.84zM269.11 386.18h3.89v7.73h-3.89zM276.29 386.18h14.66v7.73h-14.66zM294.24 386.18h3.89v7.73h-3.89zM319.37 386.18h3.89v7.73h-3.89zM330.14 386.18h3.89v7.73h-3.89zM366.04 386.18h3.89v7.73h-3.89zM193.72 393.61h3.89v7.73h-3.89zM233.21 393.61h7.48v7.73h-7.48zM243.98 393.61h14.66v7.73h-14.66zM261.93 393.61h3.89v7.73h-3.89zM279.88 393.61h3.89v7.73h-3.89zM287.06 393.61h3.89v7.73h-3.89zM294.24 393.61h3.89v7.73h-3.89zM301.42 393.61h3.89v7.73h-3.89zM308.60 393.61h3.89v7.73h-3.89zM322.96 393.61h3.89v7.73h-3.89zM330.14 393.61h7.48v7.73h-7.48zM243.98 401.04h7.48v7.73h-7.48zM261.93 401.04h3.89v7.73h-3.89zM279.88 401.04h14.66v7.73h-14.66zM333.73 401.04h3.89v7.73h-3.89zM118.33 408.47h3.89v7.73h-3.89zM247.57 408.47h7.48v7.73h-7.48zM258.34 408.47h7.48v7.73h-7.48zM272.70 408.47h3.89v7.73h-3.89zM283.47 408.47h11.07v7.73h-11.07zM301.42 408.47h3.89v7.73h-3.89zM330.14 408.47h3.89v7.73h-3.89zM401.94 408.47h3.89v7.73h-3.89zM247.57 415.90h29.02v7.73h-29.02zM290.65 415.90h14.66v7.73h-14.66zM330.14 415.90h3.89v7.73h-3.89zM229.62 423.33h7.48v7.73h-7.48zM247.57 423.33h21.84v7.73h-21.84zM272.70 423.33h7.48v7.73h-7.48zM283.47 423.33h3.89v7.73h-3.89zM290.65 423.33h14.66v7.73h-14.66zM319.37 423.33h14.66v7.73h-14.66zM229.62 430.76h7.48v7.73h-7.48zM272.70 430.76h7.48v7.73h-7.48zM283.47 430.76h25.43v7.73h-25.43zM312.19 430.76h3.89v7.73h-3.89zM319.37 430.76h18.25v7.73h-18.25zM236.80 438.19h7.48v7.73h-7.48zM276.29 438.19h7.48v7.73h-7.48zM308.60 438.19h3.89v7.73h-3.89zM322.96 438.19h11.07v7.73h-11.07zM236.80 445.62h7.48v7.73h-7.48zM236.80 453.05h7.48v7.73h-7.48zM236.80 460.48h3.89v7.73h-3.89z"/>
<path fill="#e96230" d="M506.05 140.99h3.89v7.73h-3.89zM272.70 289.59h14.66v7.73h-14.66zM258.34 297.02h3.89v7.73h-3.89zM265.52 297.02h3.89v7.73h-3.89zM272.70 297.02h3.89v7.73h-3.89zM308.60 297.02h7.48v7.73h-7.48zM258.34 304.45h3.89v7.73h-3.89zM265.52 304.45h3.89v7.73h-3.89zM261.93 311.88h11.07v7.73h-11.07zM276.29 311.88h3.89v7.73h-3.89zM283.47 311.88h7.48v7.73h-7.48zM258.34 319.31h3.89v7.73h-3.89zM251.16 326.74h3.89v7.73h-3.89zM279.88 326.74h3.89v7.73h-3.89zM290.65 326.74h3.89v7.73h-3.89zM301.42 326.74h3.89v7.73h-3.89zM312.19 326.74h3.89v7.73h-3.89zM261.93 334.17h3.89v7.73h-3.89zM287.06 334.17h3.89v7.73h-3.89zM297.83 334.17h3.89v7.73h-3.89zM312.19 334.17h3.89v7.73h-3.89zM269.11 341.60h7.48v7.73h-7.48zM279.88 341.60h3.89v7.73h-3.89zM290.65 341.60h3.89v7.73h-3.89zM272.70 349.03h3.89v7.73h-3.89zM279.88 349.03h3.89v7.73h-3.89zM290.65 349.03h3.89v7.73h-3.89zM297.83 349.03h3.89v7.73h-3.89zM269.11 356.46h7.48v7.73h-7.48zM279.88 356.46h3.89v7.73h-3.89zM287.06 356.46h3.89v7.73h-3.89zM301.42 356.46h3.89v7.73h-3.89zM315.78 356.46h3.89v7.73h-3.89zM111.15 363.89h3.89v7.73h-3.89zM269.11 363.89h3.89v7.73h-3.89zM279.88 363.89h3.89v7.73h-3.89zM287.06 363.89h3.89v7.73h-3.89zM294.24 363.89h11.07v7.73h-11.07zM308.60 363.89h3.89v7.73h-3.89zM254.75 371.32h7.48v7.73h-7.48zM269.11 371.32h3.89v7.73h-3.89zM276.29 371.32h7.48v7.73h-7.48zM297.83 371.32h3.89v7.73h-3.89zM308.60 371.32h3.89v7.73h-3.89zM254.75 378.75h11.07v7.73h-11.07zM301.42 378.75h3.89v7.73h-3.89zM312.19 378.75h3.89v7.73h-3.89zM319.37 378.75h3.89v7.73h-3.89zM265.52 386.18h3.89v7.73h-3.89zM272.70 386.18h3.89v7.73h-3.89zM290.65 386.18h3.89v7.73h-3.89zM305.01 386.18h3.89v7.73h-3.89zM326.55 386.18h3.89v7.73h-3.89zM258.34 393.61h3.89v7.73h-3.89zM265.52 393.61h7.48v7.73h-7.48zM276.29 393.61h3.89v7.73h-3.89zM283.47 393.61h3.89v7.73h-3.89zM290.65 393.61h3.89v7.73h-3.89zM297.83 393.61h3.89v7.73h-3.89zM305.01 393.61h3.89v7.73h-3.89zM251.16 401.04h11.07v7.73h-11.07zM265.52 401.04h14.66v7.73h-14.66zM294.24 401.04h3.89v7.73h-3.89zM315.78 401.04h3.89v7.73h-3.89zM330.14 401.04h3.89v7.73h-3.89zM254.75 408.47h3.89v7.73h-3.89zM265.52 408.47h7.48v7.73h-7.48zM276.29 408.47h7.48v7.73h-7.48zM294.24 408.47h7.48v7.73h-7.48zM305.01 408.47h18.25v7.73h-18.25zM326.55 408.47h3.89v7.73h-3.89zM276.29 415.90h3.89v7.73h-3.89zM283.47 415.90h7.48v7.73h-7.48zM305.01 415.90h3.89v7.73h-3.89zM319.37 415.90h3.89v7.73h-3.89zM279.88 423.33h3.89v7.73h-3.89zM287.06 423.33h3.89v7.73h-3.89zM305.01 423.33h3.89v7.73h-3.89zM279.88 430.76h3.89v7.73h-3.89zM308.60 430.76h3.89v7.73h-3.89zM315.78 430.76h3.89v7.73h-3.89zM301.42 438.19h7.48v7.73h-7.48zM226.03 482.77h3.89v7.73h-3.89z"/>
<path fill="#cb4149" d="M75.25 207.86h3.89v7.73h-3.89zM75.25 215.29h3.89v7.73h-3.89zM261.93 319.31h3.89v7.73h-3.89zM254.75 326.74h11.07v7.73h-11.07zM269.11 326.74h7.48v7.73h-7.48zM276.29 334.17h11.07v7.73h-11.07zM265.52 341.60h3.89v7.73h-3.89zM276.29 341.60h3.89v7.73h-3.89zM287.06 341.60h3.89v7.73h-3.89zM111.15 349.03h3.89v7.73h-3.89zM276.29 349.03h3.89v7.73h-3.89zM283.47 349.03h7.48v7.73h-7.48zM290.65 356.46h3.89v7.73h-3.89zM297.83 356.46h3.89v7.73h-3.89zM283.47 363.89h3.89v7.73h-3.89zM294.24 371.32h3.89v7.73h-3.89zM305.01 371.32h3.89v7.73h-3.89zM312.19 371.32h3.89v7.73h-3.89zM305.01 378.75h7.48v7.73h-7.48zM322.96 378.75h3.89v7.73h-3.89zM297.83 386.18h7.48v7.73h-7.48zM308.60 386.18h11.07v7.73h-11.07zM322.96 386.18h3.89v7.73h-3.89zM272.70 393.61h3.89v7.73h-3.89zM312.19 393.61h11.07v7.73h-11.07zM326.55 393.61h3.89v7.73h-3.89zM297.83 401.04h18.25v7.73h-18.25zM319.37 401.04h11.07v7.73h-11.07zM322.96 408.47h3.89v7.73h-3.89zM279.88 415.90h3.89v7.73h-3.89zM308.60 415.90h11.07v7.73h-11.07zM315.78 423.33h3.89v7.73h-3.89zM229.62 482.77h3.89v7.73h-3.89z"/>
<path fill="#a92e5e" d="M78.84 215.29h3.89v7.73h-3.89zM254.75 319.31h3.89v7.73h-3.89zM269.11 334.17h3.89v7.73h-3.89zM283.47 341.60h3.89v7.73h-3.89zM258.34 349.03h3.89v7.73h-3.89zM136.28 356.46h3.89v7.73h-3.89zM290.65 363.89h3.89v7.73h-3.89zM315.78 378.75h3.89v7.73h-3.89zM308.60 423.33h7.48v7.73h-7.48z"/>
<path fill="#85216b" d="M265.52 326.74h3.89v7.73h-3.89zM269.11 349.03h3.89v7.73h-3.89zM111.15 356.46h3.89v7.73h-3.89z"/>
<path fill="#390963" d="M383.99 245.01h3.89v7.73h-3.89z"/>
</g><g filter="url(#bs)">
<g fill="none" stroke="#181818" stroke-width="1.3" stroke-linejoin="round" stroke-opacity="0.92">
<polygon points="108.0,165.0 112.0,161.0 116.0,160.5 120.6,164.7 130.0,178.0 141.8,192.0 148.0,200.5 158.8,203.7 175.7,201.5 194.8,205.8 207.5,201.5 222.3,200.5 224.4,195.0 230.8,194.0 230.8,186.0 230.8,161.6 241.4,157.3 258.3,160.5 278.0,154.1 281.2,136.1 290.7,133.0 298.0,136.0 303.4,142.5 309.8,143.5 310.8,146.7 323.5,137.2 332.0,125.5 334.0,127.7 339.4,124.5 345.8,111.8 347.9,101.2 354.3,92.7 355.3,85.3 369.0,82.2 379.7,82.2 383.9,88.5 394.5,88.9 397.7,93.1 405.1,88.5 412.5,88.9 413.6,83.2 422.0,82.2 426.3,85.3 428.4,91.6 434.8,93.8 439.0,109.7 444.3,115.0 453.8,113.9 454.9,109.7 468.7,109.7 477.4,104.6 483.0,106.0 484.4,119.0 492.2,129.0 500.0,131.3 501.2,138.0 507.0,141.5 508.0,150.6 518.2,152.8 521.6,149.4 522.6,160.0 522.6,178.0 520.5,185.7 518.2,191.4 514.8,193.6 513.7,199.3 508.0,200.4 503.5,196.5 499.0,198.0 494.4,203.8 485.4,206.0 481.4,213.2 477.0,215.3 476.0,227.0 465.5,234.4 461.3,245.0 462.3,253.4 458.0,264.0 450.7,276.7 447.5,291.6 445.4,304.0 440.0,312.5 440.0,323.0 433.7,327.3 432.7,336.8 427.4,340.0 427.4,361.2 420.0,364.4 419.0,371.8 411.8,372.9 410.8,400.4 405.0,403.6 404.5,416.0 405.0,419.2 399.8,421.3 398.8,427.7 390.3,425.5 384.0,423.4 377.6,425.5 376.5,434.0 369.0,436.0 367.0,440.4 360.6,443.5 359.6,438.2 354.3,437.2 353.2,441.4 339.4,441.4 333.0,442.5 324.6,443.5 323.5,440.4 318.3,443.5 317.2,440.4 303.4,444.6 297.0,437.0 281.0,442.5 278.0,451.0 274.2,457.3 266.8,458.4 265.8,463.7 258.3,465.8 252.0,461.5 251.0,469.0 244.6,473.2 237.0,475.3 231.9,478.5 224.4,476.4 218.0,481.7 214.9,490.2 205.0,500.0 165.0,500.0 152.4,490.2 146.0,483.8 142.9,474.3 129.0,471.0 122.7,469.0 120.8,456.0 114.0,455.5 114.0,438.0 106.0,437.5 98.6,433.3 92.2,425.9 92.2,414.2 88.0,410.0 86.6,408.0 80.3,406.0 77.0,401.8 75.0,395.4 62.8,388.0 62.8,383.8 58.5,372.0 59.2,367.6 53.9,359.0 55.0,346.4 50.7,335.8 40.0,333.7 38.0,330.0 41.2,325.2 50.7,312.5 58.0,314.6 63.4,310.4 62.4,304.0 62.4,287.3 56.0,285.2 57.0,278.9 62.4,276.7 62.4,266.0 56.0,263.0 62.4,254.5 68.7,254.5 69.8,251.3 71.9,252.4 77.2,247.0 77.2,218.5 62.4,220.6 56.0,218.5 63.4,209.0 71.9,202.6 83.5,213.2 89.9,210.0 91.0,213.0 105.8,212.0 105.8,192.0 100.5,187.0 106.8,183.8 106.8,171.0"/>
<polyline points="98.6,81.7 94.0,93.0 87.4,110.0 88.2,112.5 90.2,113.5 91.0,118.0 95.0,125.5 94.6,128.0 98.0,136.0 100.2,143.5 106.8,147.8 106.8,163.7 108.0,165.0"/>
<polyline points="477.2,81.7 477.2,104.6"/>
<polyline points="47.5,385.0 47.5,405.7 40.0,405.7"/>
<polyline points="333.0,442.5 340.0,455.0 348.0,469.0 360.6,479.6 363.8,490.2"/>
<polyline points="231.9,478.5 235.0,484.0 237.0,490.2"/>
<polyline points="339.4,441.4 339.4,446.7"/>
</g>
<g fill="none" stroke="#3530b0" stroke-width="1.2" stroke-linejoin="round" stroke-linecap="round" stroke-opacity="0.78">
<polyline points="97.7,81.7 93.0,93.0 86.0,111.3 89.6,117.5 93.4,126.0 96.6,136.5 98.8,143.5"/>
<polyline points="96.4,81.7 91.8,93.0"/>
<polyline points="49.6,115.0 52.0,124.0 56.0,132.0 61.0,139.0 67.7,144.6 77.0,148.0 86.7,148.8 93.0,146.5 98.4,142.5 103.0,146.5 110.0,147.8"/>
<polyline points="236.3,195.2 239.7,199.7 245.4,195.2 251.0,201.0 254.4,207.7 254.0,215.3 253.3,223.5 248.8,232.6 248.8,241.7 252.2,250.8 251.0,259.8 248.8,271.0 244.2,284.8 243.1,298.4 241.6,306.0 240.3,325.2 243.5,346.4 241.4,365.4 235.0,369.7 238.2,388.7 237.0,416.0 239.3,437.2 237.0,458.4 237.0,471.0 231.9,478.5 235.5,484.0 238.5,490.2"/>
<polyline points="239.7,199.7 246.5,204.0 249.8,212.0 250.2,222.0 248.8,232.6"/>
<polyline points="250.5,252.5 246.0,256.0 242.0,262.0 238.5,276.0 236.3,292.0 238.3,302.0 241.2,309.0"/>
<polyline points="239.3,437.2 231.0,447.0 224.4,456.3 222.3,462.6 227.0,471.0 231.9,478.5"/>
<polyline points="477.0,105.4 473.0,112.0 471.8,116.0 470.0,121.0 464.4,122.4 458.0,129.8 447.5,137.2 434.8,141.4 424.2,145.7 421.0,156.3 413.6,161.6 405.0,163.7 397.7,171.0 395.5,182.0 394.5,192.0 388.0,204.7 373.3,215.3 369.0,228.0 358.5,240.7 345.8,253.4 346.9,259.8 352.0,266.0 350.0,274.6 341.6,278.9 335.2,287.3 330.0,298.0 331.0,304.0 337.3,311.4 327.8,318.8 327.8,327.3 320.4,335.8 323.5,346.4 331.0,361.2 328.8,378.0 333.0,397.0 333.0,416.0 332.0,424.5 325.7,437.2 323.5,441.4"/>
<polyline points="481.4,105.4 481.0,115.0 480.3,124.5 482.0,131.0 484.6,139.3 487.6,154.0 492.0,164.0 497.8,174.4 503.0,182.0 508.0,188.0 513.7,193.6"/>
<polyline points="43.2,379.0 45.5,383.0 48.0,385.9 57.0,385.9 62.5,387.5 74.5,394.8 76.6,401.5 79.8,405.8 86.2,407.9 91.6,414.5 91.6,425.9 94.4,430.0 101.8,441.8 107.0,446.5 113.6,447.6 113.6,455.5 120.3,456.3 121.4,466.0 123.0,471.0 130.0,473.0 138.0,475.0 143.0,478.0 145.0,485.0 149.0,490.2"/>
</g>
<g fill="none" stroke="#3a30d8" stroke-width="1.7" stroke-linejoin="round" stroke-linecap="round" stroke-opacity="0.95">
<polyline points="112.5,157.5 116.0,160.5 124.0,169.0 132.0,180.0 141.8,192.0 148.0,200.5 158.8,203.7 175.7,201.5 194.8,205.8 207.5,201.5 222.3,200.8 223.5,196.5 231.0,196.0 236.3,195.2"/>
</g>
<g fill="none" stroke="#4a40f0" stroke-width="0.95" stroke-linejoin="round" stroke-opacity="0.8">
<polyline points="321.4,442.5 321.0,449.0 322.5,454.0 321.5,459.0 323.5,464.0 322.8,469.0 325.0,474.0 324.2,479.0 326.0,484.0 326.7,490.2"/>
<polyline points="40.0,406.5 46.4,407.0 50.6,412.4 56.0,416.0 61.2,418.7 69.7,416.6 77.0,418.7 86.6,418.7 91.6,423.0"/>
</g>
</g></g>
<rect x="40.1" y="81.7" width="483.0" height="408.8" fill="none" stroke="#969696" stroke-width="1.55" filter="url(#bf)"/>
<g clip-path="url(#cr)"><g filter="url(#bl)">
<path fill="#fdffa6" d="M851.66 140.99h3.89v7.73h-3.89zM851.66 148.42h3.89v7.73h-3.89zM664.98 311.88h14.66v7.73h-14.66zM654.21 319.31h21.84v7.73h-21.84zM654.21 326.74h11.07v7.73h-11.07zM639.85 334.17h18.25v7.73h-18.25zM632.67 341.60h14.66v7.73h-14.66zM611.13 349.03h21.84v7.73h-21.84z"/>
<path fill="#fbde4e" d="M848.07 81.55h11.07v7.73h-11.07zM905.51 81.55h11.07v7.73h-11.07zM848.07 88.98h11.07v7.73h-11.07zM905.51 88.98h11.07v7.73h-11.07zM848.07 96.41h11.07v7.73h-11.07zM905.51 96.41h11.07v7.73h-11.07zM862.43 103.84h3.89v7.73h-3.89zM905.51 103.84h11.07v7.73h-11.07zM905.51 111.27h11.07v7.73h-11.07zM833.71 126.13h11.07v7.73h-11.07zM787.04 133.56h3.89v7.73h-3.89zM833.71 133.56h11.07v7.73h-11.07zM787.04 140.99h14.66v7.73h-14.66zM844.48 140.99h7.48v7.73h-7.48zM855.25 140.99h3.89v7.73h-3.89zM840.89 148.42h11.07v7.73h-11.07zM855.25 148.42h3.89v7.73h-3.89zM769.09 155.85h18.25v7.73h-18.25zM833.71 155.85h25.43v7.73h-25.43zM769.09 163.28h18.25v7.73h-18.25zM833.71 163.28h25.43v7.73h-25.43zM769.09 170.71h18.25v7.73h-18.25zM833.71 170.71h25.43v7.73h-25.43zM790.63 178.14h14.66v7.73h-14.66zM790.63 185.57h14.66v7.73h-14.66zM560.87 200.43h7.48v7.73h-7.48zM629.08 200.43h3.89v7.73h-3.89zM553.69 207.86h14.66v7.73h-14.66zM629.08 207.86h14.66v7.73h-14.66zM733.19 207.86h3.89v7.73h-3.89zM550.10 215.29h14.66v7.73h-14.66zM643.44 215.29h3.89v7.73h-3.89zM650.62 215.29h3.89v7.73h-3.89zM733.19 215.29h3.89v7.73h-3.89zM571.64 222.72h7.48v7.73h-7.48zM593.18 222.72h3.89v7.73h-3.89zM643.44 222.72h14.66v7.73h-14.66zM715.24 222.72h7.48v7.73h-7.48zM571.64 230.15h7.48v7.73h-7.48zM593.18 230.15h7.48v7.73h-7.48zM643.44 230.15h11.07v7.73h-11.07zM697.29 230.15h3.89v7.73h-3.89zM571.64 237.58h7.48v7.73h-7.48zM596.77 237.58h3.89v7.73h-3.89zM693.70 237.58h11.07v7.73h-11.07zM729.60 237.58h3.89v7.73h-3.89zM568.05 245.01h11.07v7.73h-11.07zM682.93 245.01h3.89v7.73h-3.89zM729.60 245.01h3.89v7.73h-3.89zM553.69 252.44h21.84v7.73h-21.84zM657.80 252.44h7.48v7.73h-7.48zM675.75 252.44h3.89v7.73h-3.89zM550.10 259.87h25.43v7.73h-25.43zM621.90 259.87h3.89v7.73h-3.89zM654.21 259.87h11.07v7.73h-11.07zM675.75 259.87h3.89v7.73h-3.89zM553.69 267.30h21.84v7.73h-21.84zM654.21 267.30h7.48v7.73h-7.48zM550.10 274.73h25.43v7.73h-25.43zM550.10 282.16h25.43v7.73h-25.43zM553.69 289.59h21.84v7.73h-21.84zM654.21 289.59h3.89v7.73h-3.89zM553.69 297.02h21.84v7.73h-21.84zM557.28 304.45h3.89v7.73h-3.89zM664.98 304.45h3.89v7.73h-3.89zM539.33 311.88h21.84v7.73h-21.84zM535.74 319.31h25.43v7.73h-25.43zM686.52 319.31h3.89v7.73h-3.89zM532.15 326.74h29.02v7.73h-29.02zM686.52 326.74h3.89v7.73h-3.89zM546.51 334.17h14.66v7.73h-14.66zM546.51 341.60h14.66v7.73h-14.66zM679.34 341.60h3.89v7.73h-3.89zM550.10 349.03h11.07v7.73h-11.07zM550.10 356.46h11.07v7.73h-11.07zM553.69 363.89h3.89v7.73h-3.89zM553.69 371.32h3.89v7.73h-3.89zM553.69 378.75h7.48v7.73h-7.48zM862.43 378.75h3.89v7.73h-3.89zM862.43 386.18h7.48v7.73h-7.48zM664.98 393.61h7.48v7.73h-7.48zM862.43 393.61h3.89v7.73h-3.89zM869.61 393.61h3.89v7.73h-3.89zM664.98 401.04h11.07v7.73h-11.07zM869.61 401.04h3.89v7.73h-3.89zM862.43 408.47h3.89v7.73h-3.89zM675.75 467.91h7.48v7.73h-7.48zM647.03 475.34h3.89v7.73h-3.89zM686.52 475.34h7.48v7.73h-7.48zM682.93 482.77h11.07v7.73h-11.07z"/>
<path fill="#fdb316" d="M862.43 81.55h3.89v7.73h-3.89zM873.20 81.55h14.66v7.73h-14.66zM894.74 81.55h11.07v7.73h-11.07zM927.05 81.55h3.89v7.73h-3.89zM858.84 88.98h7.48v7.73h-7.48zM869.61 88.98h3.89v7.73h-3.89zM876.79 88.98h7.48v7.73h-7.48zM894.74 88.98h11.07v7.73h-11.07zM858.84 96.41h14.66v7.73h-14.66zM894.74 96.41h11.07v7.73h-11.07zM844.48 103.84h18.25v7.73h-18.25zM866.02 103.84h7.48v7.73h-7.48zM880.38 103.84h3.89v7.73h-3.89zM894.74 103.84h11.07v7.73h-11.07zM966.54 103.84h7.48v7.73h-7.48zM844.48 111.27h3.89v7.73h-3.89zM855.25 111.27h29.02v7.73h-29.02zM894.74 111.27h11.07v7.73h-11.07zM916.28 111.27h3.89v7.73h-3.89zM923.46 111.27h3.89v7.73h-3.89zM966.54 111.27h7.48v7.73h-7.48zM833.71 118.70h18.25v7.73h-18.25zM862.43 118.70h14.66v7.73h-14.66zM898.33 118.70h3.89v7.73h-3.89zM916.28 118.70h3.89v7.73h-3.89zM934.23 118.70h3.89v7.73h-3.89zM948.59 118.70h3.89v7.73h-3.89zM970.13 118.70h7.48v7.73h-7.48zM776.27 126.13h3.89v7.73h-3.89zM783.45 126.13h7.48v7.73h-7.48zM815.76 126.13h11.07v7.73h-11.07zM855.25 126.13h11.07v7.73h-11.07zM869.61 126.13h7.48v7.73h-7.48zM887.56 126.13h3.89v7.73h-3.89zM948.59 126.13h3.89v7.73h-3.89zM980.90 126.13h3.89v7.73h-3.89zM783.45 133.56h3.89v7.73h-3.89zM815.76 133.56h11.07v7.73h-11.07zM844.48 133.56h18.25v7.73h-18.25zM901.92 133.56h3.89v7.73h-3.89zM952.18 133.56h3.89v7.73h-3.89zM995.26 133.56h3.89v7.73h-3.89zM779.86 140.99h7.48v7.73h-7.48zM804.99 140.99h14.66v7.73h-14.66zM833.71 140.99h11.07v7.73h-11.07zM876.79 140.99h3.89v7.73h-3.89zM916.28 140.99h3.89v7.73h-3.89zM952.18 140.99h3.89v7.73h-3.89zM970.13 140.99h3.89v7.73h-3.89zM772.68 148.42h21.84v7.73h-21.84zM797.81 148.42h7.48v7.73h-7.48zM837.30 148.42h3.89v7.73h-3.89zM876.79 148.42h3.89v7.73h-3.89zM916.28 148.42h3.89v7.73h-3.89zM973.72 148.42h3.89v7.73h-3.89zM603.95 155.85h7.48v7.73h-7.48zM729.60 155.85h18.25v7.73h-18.25zM754.73 155.85h14.66v7.73h-14.66zM970.13 155.85h7.48v7.73h-7.48zM600.36 163.28h14.66v7.73h-14.66zM722.42 163.28h25.43v7.73h-25.43zM754.73 163.28h14.66v7.73h-14.66zM905.51 163.28h3.89v7.73h-3.89zM916.28 163.28h3.89v7.73h-3.89zM937.82 163.28h3.89v7.73h-3.89zM945.00 163.28h3.89v7.73h-3.89zM973.72 163.28h7.48v7.73h-7.48zM600.36 170.71h11.07v7.73h-11.07zM722.42 170.71h21.84v7.73h-21.84zM754.73 170.71h7.48v7.73h-7.48zM765.50 170.71h3.89v7.73h-3.89zM787.04 170.71h3.89v7.73h-3.89zM862.43 170.71h3.89v7.73h-3.89zM930.64 170.71h3.89v7.73h-3.89zM941.41 170.71h7.48v7.73h-7.48zM973.72 170.71h7.48v7.73h-7.48zM600.36 178.14h25.43v7.73h-25.43zM722.42 178.14h18.25v7.73h-18.25zM754.73 178.14h14.66v7.73h-14.66zM783.45 178.14h7.48v7.73h-7.48zM804.99 178.14h7.48v7.73h-7.48zM833.71 178.14h25.43v7.73h-25.43zM930.64 178.14h3.89v7.73h-3.89zM937.82 178.14h11.07v7.73h-11.07zM970.13 178.14h3.89v7.73h-3.89zM596.77 185.57h29.02v7.73h-29.02zM729.60 185.57h11.07v7.73h-11.07zM754.73 185.57h7.48v7.73h-7.48zM783.45 185.57h7.48v7.73h-7.48zM804.99 185.57h11.07v7.73h-11.07zM819.35 185.57h3.89v7.73h-3.89zM826.53 185.57h32.61v7.73h-32.61zM930.64 185.57h3.89v7.73h-3.89zM937.82 185.57h11.07v7.73h-11.07zM970.13 185.57h3.89v7.73h-3.89zM977.31 185.57h3.89v7.73h-3.89zM995.26 185.57h3.89v7.73h-3.89zM596.77 193.00h39.79v7.73h-39.79zM733.19 193.00h11.07v7.73h-11.07zM801.40 193.00h3.89v7.73h-3.89zM812.17 193.00h50.56v7.73h-50.56zM937.82 193.00h7.48v7.73h-7.48zM970.13 193.00h3.89v7.73h-3.89zM977.31 193.00h7.48v7.73h-7.48zM596.77 200.43h32.61v7.73h-32.61zM632.67 200.43h46.97v7.73h-46.97zM690.11 200.43h18.25v7.73h-18.25zM726.01 200.43h21.84v7.73h-21.84zM801.40 200.43h3.89v7.73h-3.89zM815.76 200.43h3.89v7.73h-3.89zM822.94 200.43h36.20v7.73h-36.20zM937.82 200.43h7.48v7.73h-7.48zM973.72 200.43h11.07v7.73h-11.07zM571.64 207.86h3.89v7.73h-3.89zM578.82 207.86h3.89v7.73h-3.89zM596.77 207.86h32.61v7.73h-32.61zM643.44 207.86h21.84v7.73h-21.84zM672.16 207.86h14.66v7.73h-14.66zM690.11 207.86h18.25v7.73h-18.25zM715.24 207.86h18.25v7.73h-18.25zM736.78 207.86h7.48v7.73h-7.48zM747.55 207.86h14.66v7.73h-14.66zM769.09 207.86h3.89v7.73h-3.89zM779.86 207.86h25.43v7.73h-25.43zM808.58 207.86h3.89v7.73h-3.89zM815.76 207.86h3.89v7.73h-3.89zM826.53 207.86h29.02v7.73h-29.02zM887.56 207.86h3.89v7.73h-3.89zM905.51 207.86h3.89v7.73h-3.89zM578.82 215.29h21.84v7.73h-21.84zM603.95 215.29h39.79v7.73h-39.79zM647.03 215.29h3.89v7.73h-3.89zM654.21 215.29h11.07v7.73h-11.07zM668.57 215.29h11.07v7.73h-11.07zM682.93 215.29h3.89v7.73h-3.89zM690.11 215.29h18.25v7.73h-18.25zM715.24 215.29h18.25v7.73h-18.25zM736.78 215.29h7.48v7.73h-7.48zM747.55 215.29h54.15v7.73h-54.15zM804.99 215.29h3.89v7.73h-3.89zM826.53 215.29h18.25v7.73h-18.25zM578.82 222.72h14.66v7.73h-14.66zM596.77 222.72h32.61v7.73h-32.61zM632.67 222.72h11.07v7.73h-11.07zM657.80 222.72h29.02v7.73h-29.02zM690.11 222.72h25.43v7.73h-25.43zM722.42 222.72h64.92v7.73h-64.92zM790.63 222.72h14.66v7.73h-14.66zM826.53 222.72h14.66v7.73h-14.66zM937.82 222.72h3.89v7.73h-3.89zM578.82 230.15h14.66v7.73h-14.66zM600.36 230.15h25.43v7.73h-25.43zM632.67 230.15h11.07v7.73h-11.07zM654.21 230.15h43.38v7.73h-43.38zM700.88 230.15h79.28v7.73h-79.28zM783.45 230.15h3.89v7.73h-3.89zM815.76 230.15h3.89v7.73h-3.89zM833.71 230.15h3.89v7.73h-3.89zM905.51 230.15h3.89v7.73h-3.89zM578.82 237.58h3.89v7.73h-3.89zM586.00 237.58h11.07v7.73h-11.07zM600.36 237.58h25.43v7.73h-25.43zM629.08 237.58h64.92v7.73h-64.92zM704.47 237.58h25.43v7.73h-25.43zM733.19 237.58h43.38v7.73h-43.38zM822.94 237.58h3.89v7.73h-3.89zM901.92 237.58h3.89v7.73h-3.89zM578.82 245.01h46.97v7.73h-46.97zM629.08 245.01h54.15v7.73h-54.15zM686.52 245.01h43.38v7.73h-43.38zM733.19 245.01h21.84v7.73h-21.84zM575.23 252.44h61.33v7.73h-61.33zM639.85 252.44h18.25v7.73h-18.25zM664.98 252.44h11.07v7.73h-11.07zM679.34 252.44h64.92v7.73h-64.92zM787.04 252.44h3.89v7.73h-3.89zM858.84 252.44h11.07v7.73h-11.07zM941.41 252.44h3.89v7.73h-3.89zM575.23 259.87h25.43v7.73h-25.43zM603.95 259.87h18.25v7.73h-18.25zM625.49 259.87h11.07v7.73h-11.07zM639.85 259.87h14.66v7.73h-14.66zM664.98 259.87h11.07v7.73h-11.07zM679.34 259.87h57.74v7.73h-57.74zM787.04 259.87h7.48v7.73h-7.48zM808.58 259.87h3.89v7.73h-3.89zM858.84 259.87h11.07v7.73h-11.07zM880.38 259.87h3.89v7.73h-3.89zM575.23 267.30h25.43v7.73h-25.43zM603.95 267.30h50.56v7.73h-50.56zM661.39 267.30h21.84v7.73h-21.84zM686.52 267.30h43.38v7.73h-43.38zM790.63 267.30h3.89v7.73h-3.89zM858.84 267.30h14.66v7.73h-14.66zM876.79 267.30h3.89v7.73h-3.89zM905.51 267.30h3.89v7.73h-3.89zM575.23 274.73h11.07v7.73h-11.07zM596.77 274.73h3.89v7.73h-3.89zM603.95 274.73h3.89v7.73h-3.89zM614.72 274.73h11.07v7.73h-11.07zM636.26 274.73h25.43v7.73h-25.43zM675.75 274.73h3.89v7.73h-3.89zM686.52 274.73h50.56v7.73h-50.56zM858.84 274.73h11.07v7.73h-11.07zM880.38 274.73h3.89v7.73h-3.89zM912.69 274.73h3.89v7.73h-3.89zM919.87 274.73h7.48v7.73h-7.48zM575.23 282.16h11.07v7.73h-11.07zM603.95 282.16h7.48v7.73h-7.48zM614.72 282.16h11.07v7.73h-11.07zM632.67 282.16h29.02v7.73h-29.02zM686.52 282.16h21.84v7.73h-21.84zM711.65 282.16h32.61v7.73h-32.61zM765.50 282.16h3.89v7.73h-3.89zM804.99 282.16h7.48v7.73h-7.48zM826.53 282.16h3.89v7.73h-3.89zM862.43 282.16h3.89v7.73h-3.89zM880.38 282.16h3.89v7.73h-3.89zM909.10 282.16h18.25v7.73h-18.25zM930.64 282.16h3.89v7.73h-3.89zM575.23 289.59h14.66v7.73h-14.66zM596.77 289.59h14.66v7.73h-14.66zM618.31 289.59h3.89v7.73h-3.89zM632.67 289.59h21.84v7.73h-21.84zM657.80 289.59h3.89v7.73h-3.89zM686.52 289.59h14.66v7.73h-14.66zM704.47 289.59h3.89v7.73h-3.89zM711.65 289.59h32.61v7.73h-32.61zM808.58 289.59h7.48v7.73h-7.48zM819.35 289.59h14.66v7.73h-14.66zM862.43 289.59h3.89v7.73h-3.89zM869.61 289.59h7.48v7.73h-7.48zM898.33 289.59h7.48v7.73h-7.48zM909.10 289.59h18.25v7.73h-18.25zM930.64 289.59h3.89v7.73h-3.89zM575.23 297.02h36.20v7.73h-36.20zM647.03 297.02h14.66v7.73h-14.66zM664.98 297.02h3.89v7.73h-3.89zM686.52 297.02h21.84v7.73h-21.84zM718.83 297.02h25.43v7.73h-25.43zM822.94 297.02h11.07v7.73h-11.07zM855.25 297.02h3.89v7.73h-3.89zM880.38 297.02h11.07v7.73h-11.07zM894.74 297.02h14.66v7.73h-14.66zM916.28 297.02h7.48v7.73h-7.48zM560.87 304.45h46.97v7.73h-46.97zM647.03 304.45h18.25v7.73h-18.25zM668.57 304.45h7.48v7.73h-7.48zM679.34 304.45h21.84v7.73h-21.84zM708.06 304.45h3.89v7.73h-3.89zM718.83 304.45h29.02v7.73h-29.02zM830.12 304.45h3.89v7.73h-3.89zM840.89 304.45h3.89v7.73h-3.89zM880.38 304.45h7.48v7.73h-7.48zM894.74 304.45h3.89v7.73h-3.89zM901.92 304.45h7.48v7.73h-7.48zM919.87 304.45h3.89v7.73h-3.89zM927.05 304.45h7.48v7.73h-7.48zM560.87 311.88h29.02v7.73h-29.02zM593.18 311.88h11.07v7.73h-11.07zM647.03 311.88h18.25v7.73h-18.25zM679.34 311.88h21.84v7.73h-21.84zM704.47 311.88h11.07v7.73h-11.07zM718.83 311.88h18.25v7.73h-18.25zM772.68 311.88h3.89v7.73h-3.89zM840.89 311.88h7.48v7.73h-7.48zM873.20 311.88h14.66v7.73h-14.66zM894.74 311.88h14.66v7.73h-14.66zM930.64 311.88h3.89v7.73h-3.89zM560.87 319.31h25.43v7.73h-25.43zM593.18 319.31h3.89v7.73h-3.89zM607.54 319.31h14.66v7.73h-14.66zM625.49 319.31h11.07v7.73h-11.07zM647.03 319.31h7.48v7.73h-7.48zM675.75 319.31h11.07v7.73h-11.07zM690.11 319.31h46.97v7.73h-46.97zM833.71 319.31h3.89v7.73h-3.89zM855.25 319.31h7.48v7.73h-7.48zM866.02 319.31h3.89v7.73h-3.89zM873.20 319.31h14.66v7.73h-14.66zM560.87 326.74h25.43v7.73h-25.43zM589.59 326.74h7.48v7.73h-7.48zM600.36 326.74h3.89v7.73h-3.89zM607.54 326.74h14.66v7.73h-14.66zM625.49 326.74h11.07v7.73h-11.07zM647.03 326.74h7.48v7.73h-7.48zM664.98 326.74h21.84v7.73h-21.84zM690.11 326.74h46.97v7.73h-46.97zM822.94 326.74h3.89v7.73h-3.89zM855.25 326.74h7.48v7.73h-7.48zM873.20 326.74h14.66v7.73h-14.66zM909.10 326.74h3.89v7.73h-3.89zM542.92 334.17h3.89v7.73h-3.89zM560.87 334.17h32.61v7.73h-32.61zM600.36 334.17h3.89v7.73h-3.89zM611.13 334.17h11.07v7.73h-11.07zM625.49 334.17h14.66v7.73h-14.66zM657.80 334.17h86.46v7.73h-86.46zM769.09 334.17h3.89v7.73h-3.89zM855.25 334.17h3.89v7.73h-3.89zM869.61 334.17h3.89v7.73h-3.89zM876.79 334.17h18.25v7.73h-18.25zM560.87 341.60h25.43v7.73h-25.43zM611.13 341.60h11.07v7.73h-11.07zM650.62 341.60h29.02v7.73h-29.02zM682.93 341.60h36.20v7.73h-36.20zM722.42 341.60h21.84v7.73h-21.84zM787.04 341.60h3.89v7.73h-3.89zM862.43 341.60h36.20v7.73h-36.20zM901.92 341.60h7.48v7.73h-7.48zM546.51 349.03h3.89v7.73h-3.89zM560.87 349.03h25.43v7.73h-25.43zM607.54 349.03h3.89v7.73h-3.89zM632.67 349.03h86.46v7.73h-86.46zM726.01 349.03h14.66v7.73h-14.66zM862.43 349.03h43.38v7.73h-43.38zM546.51 356.46h3.89v7.73h-3.89zM560.87 356.46h25.43v7.73h-25.43zM611.13 356.46h14.66v7.73h-14.66zM632.67 356.46h57.74v7.73h-57.74zM700.88 356.46h7.48v7.73h-7.48zM718.83 356.46h3.89v7.73h-3.89zM726.01 356.46h11.07v7.73h-11.07zM858.84 356.46h11.07v7.73h-11.07zM873.20 356.46h21.84v7.73h-21.84zM898.33 356.46h7.48v7.73h-7.48zM909.10 356.46h3.89v7.73h-3.89zM550.10 363.89h3.89v7.73h-3.89zM557.28 363.89h14.66v7.73h-14.66zM611.13 363.89h75.69v7.73h-75.69zM718.83 363.89h18.25v7.73h-18.25zM740.37 363.89h3.89v7.73h-3.89zM837.30 363.89h3.89v7.73h-3.89zM851.66 363.89h21.84v7.73h-21.84zM883.97 363.89h11.07v7.73h-11.07zM898.33 363.89h3.89v7.73h-3.89zM909.10 363.89h3.89v7.73h-3.89zM557.28 371.32h11.07v7.73h-11.07zM614.72 371.32h61.33v7.73h-61.33zM679.34 371.32h3.89v7.73h-3.89zM718.83 371.32h18.25v7.73h-18.25zM819.35 371.32h3.89v7.73h-3.89zM855.25 371.32h43.38v7.73h-43.38zM560.87 378.75h11.07v7.73h-11.07zM589.59 378.75h3.89v7.73h-3.89zM618.31 378.75h57.74v7.73h-57.74zM722.42 378.75h14.66v7.73h-14.66zM855.25 378.75h7.48v7.73h-7.48zM866.02 378.75h32.61v7.73h-32.61zM557.28 386.18h21.84v7.73h-21.84zM582.41 386.18h18.25v7.73h-18.25zM618.31 386.18h61.33v7.73h-61.33zM722.42 386.18h18.25v7.73h-18.25zM844.48 386.18h3.89v7.73h-3.89zM858.84 386.18h3.89v7.73h-3.89zM869.61 386.18h21.84v7.73h-21.84zM898.33 386.18h7.48v7.73h-7.48zM568.05 393.61h14.66v7.73h-14.66zM586.00 393.61h14.66v7.73h-14.66zM607.54 393.61h3.89v7.73h-3.89zM618.31 393.61h46.97v7.73h-46.97zM672.16 393.61h7.48v7.73h-7.48zM708.06 393.61h3.89v7.73h-3.89zM715.24 393.61h25.43v7.73h-25.43zM743.96 393.61h3.89v7.73h-3.89zM837.30 393.61h14.66v7.73h-14.66zM858.84 393.61h3.89v7.73h-3.89zM866.02 393.61h3.89v7.73h-3.89zM873.20 393.61h18.25v7.73h-18.25zM898.33 393.61h3.89v7.73h-3.89zM571.64 401.04h29.02v7.73h-29.02zM607.54 401.04h3.89v7.73h-3.89zM625.49 401.04h39.79v7.73h-39.79zM675.75 401.04h3.89v7.73h-3.89zM718.83 401.04h21.84v7.73h-21.84zM833.71 401.04h18.25v7.73h-18.25zM855.25 401.04h14.66v7.73h-14.66zM873.20 401.04h18.25v7.73h-18.25zM582.41 408.47h18.25v7.73h-18.25zM629.08 408.47h57.74v7.73h-57.74zM711.65 408.47h3.89v7.73h-3.89zM718.83 408.47h14.66v7.73h-14.66zM837.30 408.47h25.43v7.73h-25.43zM866.02 408.47h32.61v7.73h-32.61zM586.00 415.90h3.89v7.73h-3.89zM618.31 415.90h3.89v7.73h-3.89zM629.08 415.90h11.07v7.73h-11.07zM643.44 415.90h25.43v7.73h-25.43zM672.16 415.90h18.25v7.73h-18.25zM708.06 415.90h3.89v7.73h-3.89zM722.42 415.90h3.89v7.73h-3.89zM837.30 415.90h57.74v7.73h-57.74zM618.31 423.33h3.89v7.73h-3.89zM636.26 423.33h3.89v7.73h-3.89zM643.44 423.33h7.48v7.73h-7.48zM657.80 423.33h7.48v7.73h-7.48zM672.16 423.33h18.25v7.73h-18.25zM708.06 423.33h3.89v7.73h-3.89zM722.42 423.33h3.89v7.73h-3.89zM819.35 423.33h11.07v7.73h-11.07zM837.30 423.33h32.61v7.73h-32.61zM596.77 430.76h7.48v7.73h-7.48zM614.72 430.76h7.48v7.73h-7.48zM632.67 430.76h7.48v7.73h-7.48zM643.44 430.76h11.07v7.73h-11.07zM672.16 430.76h14.66v7.73h-14.66zM697.29 430.76h3.89v7.73h-3.89zM751.14 430.76h3.89v7.73h-3.89zM794.22 430.76h3.89v7.73h-3.89zM822.94 430.76h7.48v7.73h-7.48zM833.71 430.76h32.61v7.73h-32.61zM611.13 438.19h14.66v7.73h-14.66zM629.08 438.19h21.84v7.73h-21.84zM668.57 438.19h18.25v7.73h-18.25zM711.65 438.19h7.48v7.73h-7.48zM722.42 438.19h7.48v7.73h-7.48zM747.55 438.19h3.89v7.73h-3.89zM761.91 438.19h3.89v7.73h-3.89zM822.94 438.19h3.89v7.73h-3.89zM851.66 438.19h3.89v7.73h-3.89zM611.13 445.62h3.89v7.73h-3.89zM618.31 445.62h3.89v7.73h-3.89zM629.08 445.62h21.84v7.73h-21.84zM668.57 445.62h21.84v7.73h-21.84zM711.65 445.62h32.61v7.73h-32.61zM747.55 445.62h7.48v7.73h-7.48zM758.32 445.62h7.48v7.73h-7.48zM769.09 445.62h3.89v7.73h-3.89zM614.72 453.05h7.48v7.73h-7.48zM625.49 453.05h32.61v7.73h-32.61zM668.57 453.05h25.43v7.73h-25.43zM708.06 453.05h36.20v7.73h-36.20zM751.14 453.05h3.89v7.73h-3.89zM614.72 460.48h129.54v7.73h-129.54zM751.14 460.48h7.48v7.73h-7.48zM625.49 467.91h50.56v7.73h-50.56zM682.93 467.91h61.33v7.73h-61.33zM751.14 467.91h7.48v7.73h-7.48zM639.85 475.34h7.48v7.73h-7.48zM650.62 475.34h36.20v7.73h-36.20zM693.70 475.34h21.84v7.73h-21.84zM643.44 482.77h39.79v7.73h-39.79zM693.70 482.77h14.66v7.73h-14.66z"/>
<path fill="#f98a12" d="M858.84 81.55h3.89v7.73h-3.89zM866.02 81.55h7.48v7.73h-7.48zM916.28 81.55h11.07v7.73h-11.07zM866.02 88.98h3.89v7.73h-3.89zM873.20 88.98h3.89v7.73h-3.89zM883.97 88.98h3.89v7.73h-3.89zM916.28 88.98h14.66v7.73h-14.66zM873.20 96.41h14.66v7.73h-14.66zM916.28 96.41h7.48v7.73h-7.48zM927.05 96.41h3.89v7.73h-3.89zM873.20 103.84h7.48v7.73h-7.48zM883.97 103.84h11.07v7.73h-11.07zM916.28 103.84h14.66v7.73h-14.66zM848.07 111.27h7.48v7.73h-7.48zM883.97 111.27h11.07v7.73h-11.07zM919.87 111.27h3.89v7.73h-3.89zM927.05 111.27h3.89v7.73h-3.89zM851.66 118.70h11.07v7.73h-11.07zM876.79 118.70h21.84v7.73h-21.84zM901.92 118.70h14.66v7.73h-14.66zM919.87 118.70h14.66v7.73h-14.66zM937.82 118.70h11.07v7.73h-11.07zM952.18 118.70h18.25v7.73h-18.25zM779.86 126.13h3.89v7.73h-3.89zM826.53 126.13h7.48v7.73h-7.48zM844.48 126.13h11.07v7.73h-11.07zM866.02 126.13h3.89v7.73h-3.89zM876.79 126.13h11.07v7.73h-11.07zM891.15 126.13h14.66v7.73h-14.66zM916.28 126.13h18.25v7.73h-18.25zM937.82 126.13h3.89v7.73h-3.89zM945.00 126.13h3.89v7.73h-3.89zM952.18 126.13h3.89v7.73h-3.89zM959.36 126.13h21.84v7.73h-21.84zM984.49 126.13h7.48v7.73h-7.48zM772.68 133.56h11.07v7.73h-11.07zM826.53 133.56h7.48v7.73h-7.48zM862.43 133.56h39.79v7.73h-39.79zM909.10 133.56h3.89v7.73h-3.89zM919.87 133.56h11.07v7.73h-11.07zM937.82 133.56h14.66v7.73h-14.66zM959.36 133.56h3.89v7.73h-3.89zM966.54 133.56h29.02v7.73h-29.02zM772.68 140.99h7.48v7.73h-7.48zM819.35 140.99h14.66v7.73h-14.66zM858.84 140.99h18.25v7.73h-18.25zM880.38 140.99h25.43v7.73h-25.43zM909.10 140.99h3.89v7.73h-3.89zM919.87 140.99h7.48v7.73h-7.48zM937.82 140.99h14.66v7.73h-14.66zM959.36 140.99h11.07v7.73h-11.07zM973.72 140.99h7.48v7.73h-7.48zM984.49 140.99h3.89v7.73h-3.89zM995.26 140.99h7.48v7.73h-7.48zM794.22 148.42h3.89v7.73h-3.89zM804.99 148.42h3.89v7.73h-3.89zM812.17 148.42h7.48v7.73h-7.48zM822.94 148.42h14.66v7.73h-14.66zM858.84 148.42h18.25v7.73h-18.25zM880.38 148.42h32.61v7.73h-32.61zM919.87 148.42h7.48v7.73h-7.48zM934.23 148.42h7.48v7.73h-7.48zM945.00 148.42h18.25v7.73h-18.25zM966.54 148.42h7.48v7.73h-7.48zM977.31 148.42h3.89v7.73h-3.89zM995.26 148.42h14.66v7.73h-14.66zM787.04 155.85h18.25v7.73h-18.25zM812.17 155.85h3.89v7.73h-3.89zM826.53 155.85h7.48v7.73h-7.48zM858.84 155.85h11.07v7.73h-11.07zM873.20 155.85h21.84v7.73h-21.84zM898.33 155.85h11.07v7.73h-11.07zM916.28 155.85h7.48v7.73h-7.48zM930.64 155.85h25.43v7.73h-25.43zM959.36 155.85h3.89v7.73h-3.89zM966.54 155.85h3.89v7.73h-3.89zM977.31 155.85h11.07v7.73h-11.07zM995.26 155.85h18.25v7.73h-18.25zM747.55 163.28h7.48v7.73h-7.48zM787.04 163.28h21.84v7.73h-21.84zM812.17 163.28h3.89v7.73h-3.89zM819.35 163.28h3.89v7.73h-3.89zM826.53 163.28h7.48v7.73h-7.48zM858.84 163.28h7.48v7.73h-7.48zM873.20 163.28h3.89v7.73h-3.89zM883.97 163.28h3.89v7.73h-3.89zM898.33 163.28h7.48v7.73h-7.48zM909.10 163.28h7.48v7.73h-7.48zM919.87 163.28h3.89v7.73h-3.89zM927.05 163.28h11.07v7.73h-11.07zM941.41 163.28h3.89v7.73h-3.89zM948.59 163.28h11.07v7.73h-11.07zM966.54 163.28h7.48v7.73h-7.48zM980.90 163.28h32.61v7.73h-32.61zM743.96 170.71h11.07v7.73h-11.07zM761.91 170.71h3.89v7.73h-3.89zM790.63 170.71h25.43v7.73h-25.43zM819.35 170.71h3.89v7.73h-3.89zM826.53 170.71h7.48v7.73h-7.48zM858.84 170.71h3.89v7.73h-3.89zM869.61 170.71h3.89v7.73h-3.89zM887.56 170.71h7.48v7.73h-7.48zM901.92 170.71h11.07v7.73h-11.07zM916.28 170.71h14.66v7.73h-14.66zM934.23 170.71h7.48v7.73h-7.48zM948.59 170.71h11.07v7.73h-11.07zM970.13 170.71h3.89v7.73h-3.89zM980.90 170.71h21.84v7.73h-21.84zM1009.62 170.71h7.48v7.73h-7.48zM740.37 178.14h3.89v7.73h-3.89zM751.14 178.14h3.89v7.73h-3.89zM769.09 178.14h14.66v7.73h-14.66zM812.17 178.14h3.89v7.73h-3.89zM819.35 178.14h3.89v7.73h-3.89zM826.53 178.14h7.48v7.73h-7.48zM858.84 178.14h7.48v7.73h-7.48zM869.61 178.14h7.48v7.73h-7.48zM887.56 178.14h7.48v7.73h-7.48zM901.92 178.14h3.89v7.73h-3.89zM909.10 178.14h7.48v7.73h-7.48zM919.87 178.14h11.07v7.73h-11.07zM934.23 178.14h3.89v7.73h-3.89zM948.59 178.14h21.84v7.73h-21.84zM977.31 178.14h7.48v7.73h-7.48zM988.08 178.14h3.89v7.73h-3.89zM995.26 178.14h3.89v7.73h-3.89zM1002.44 178.14h3.89v7.73h-3.89zM1009.62 178.14h3.89v7.73h-3.89zM722.42 185.57h7.48v7.73h-7.48zM740.37 185.57h3.89v7.73h-3.89zM761.91 185.57h21.84v7.73h-21.84zM822.94 185.57h3.89v7.73h-3.89zM858.84 185.57h7.48v7.73h-7.48zM869.61 185.57h7.48v7.73h-7.48zM880.38 185.57h7.48v7.73h-7.48zM901.92 185.57h29.02v7.73h-29.02zM934.23 185.57h3.89v7.73h-3.89zM948.59 185.57h21.84v7.73h-21.84zM973.72 185.57h3.89v7.73h-3.89zM980.90 185.57h3.89v7.73h-3.89zM988.08 185.57h7.48v7.73h-7.48zM998.85 185.57h7.48v7.73h-7.48zM718.83 193.00h14.66v7.73h-14.66zM743.96 193.00h18.25v7.73h-18.25zM765.50 193.00h11.07v7.73h-11.07zM779.86 193.00h21.84v7.73h-21.84zM804.99 193.00h7.48v7.73h-7.48zM869.61 193.00h18.25v7.73h-18.25zM891.15 193.00h3.89v7.73h-3.89zM901.92 193.00h36.20v7.73h-36.20zM945.00 193.00h7.48v7.73h-7.48zM955.77 193.00h3.89v7.73h-3.89zM962.95 193.00h7.48v7.73h-7.48zM973.72 193.00h3.89v7.73h-3.89zM984.49 193.00h21.84v7.73h-21.84zM708.06 200.43h18.25v7.73h-18.25zM747.55 200.43h14.66v7.73h-14.66zM765.50 200.43h36.20v7.73h-36.20zM804.99 200.43h11.07v7.73h-11.07zM819.35 200.43h3.89v7.73h-3.89zM858.84 200.43h3.89v7.73h-3.89zM866.02 200.43h3.89v7.73h-3.89zM873.20 200.43h3.89v7.73h-3.89zM898.33 200.43h3.89v7.73h-3.89zM905.51 200.43h14.66v7.73h-14.66zM923.46 200.43h14.66v7.73h-14.66zM945.00 200.43h7.48v7.73h-7.48zM955.77 200.43h3.89v7.73h-3.89zM962.95 200.43h11.07v7.73h-11.07zM664.98 207.86h7.48v7.73h-7.48zM686.52 207.86h3.89v7.73h-3.89zM708.06 207.86h7.48v7.73h-7.48zM743.96 207.86h3.89v7.73h-3.89zM761.91 207.86h7.48v7.73h-7.48zM772.68 207.86h7.48v7.73h-7.48zM804.99 207.86h3.89v7.73h-3.89zM812.17 207.86h3.89v7.73h-3.89zM819.35 207.86h7.48v7.73h-7.48zM855.25 207.86h7.48v7.73h-7.48zM866.02 207.86h3.89v7.73h-3.89zM873.20 207.86h3.89v7.73h-3.89zM916.28 207.86h3.89v7.73h-3.89zM923.46 207.86h11.07v7.73h-11.07zM937.82 207.86h14.66v7.73h-14.66zM955.77 207.86h3.89v7.73h-3.89zM962.95 207.86h11.07v7.73h-11.07zM575.23 215.29h3.89v7.73h-3.89zM600.36 215.29h3.89v7.73h-3.89zM664.98 215.29h3.89v7.73h-3.89zM679.34 215.29h3.89v7.73h-3.89zM686.52 215.29h3.89v7.73h-3.89zM708.06 215.29h7.48v7.73h-7.48zM743.96 215.29h3.89v7.73h-3.89zM801.40 215.29h3.89v7.73h-3.89zM808.58 215.29h18.25v7.73h-18.25zM844.48 215.29h14.66v7.73h-14.66zM880.38 215.29h7.48v7.73h-7.48zM905.51 215.29h7.48v7.73h-7.48zM916.28 215.29h3.89v7.73h-3.89zM923.46 215.29h11.07v7.73h-11.07zM937.82 215.29h7.48v7.73h-7.48zM952.18 215.29h7.48v7.73h-7.48zM962.95 215.29h7.48v7.73h-7.48zM629.08 222.72h3.89v7.73h-3.89zM686.52 222.72h3.89v7.73h-3.89zM787.04 222.72h3.89v7.73h-3.89zM804.99 222.72h3.89v7.73h-3.89zM812.17 222.72h14.66v7.73h-14.66zM840.89 222.72h21.84v7.73h-21.84zM873.20 222.72h7.48v7.73h-7.48zM923.46 222.72h7.48v7.73h-7.48zM952.18 222.72h7.48v7.73h-7.48zM625.49 230.15h7.48v7.73h-7.48zM779.86 230.15h3.89v7.73h-3.89zM787.04 230.15h14.66v7.73h-14.66zM804.99 230.15h11.07v7.73h-11.07zM819.35 230.15h14.66v7.73h-14.66zM837.30 230.15h7.48v7.73h-7.48zM855.25 230.15h7.48v7.73h-7.48zM923.46 230.15h3.89v7.73h-3.89zM945.00 230.15h3.89v7.73h-3.89zM582.41 237.58h3.89v7.73h-3.89zM625.49 237.58h3.89v7.73h-3.89zM776.27 237.58h14.66v7.73h-14.66zM794.22 237.58h7.48v7.73h-7.48zM804.99 237.58h18.25v7.73h-18.25zM826.53 237.58h18.25v7.73h-18.25zM855.25 237.58h14.66v7.73h-14.66zM873.20 237.58h3.89v7.73h-3.89zM916.28 237.58h3.89v7.73h-3.89zM923.46 237.58h3.89v7.73h-3.89zM948.59 237.58h3.89v7.73h-3.89zM625.49 245.01h3.89v7.73h-3.89zM754.73 245.01h21.84v7.73h-21.84zM779.86 245.01h3.89v7.73h-3.89zM787.04 245.01h14.66v7.73h-14.66zM804.99 245.01h39.79v7.73h-39.79zM851.66 245.01h18.25v7.73h-18.25zM891.15 245.01h3.89v7.73h-3.89zM945.00 245.01h3.89v7.73h-3.89zM636.26 252.44h3.89v7.73h-3.89zM743.96 252.44h14.66v7.73h-14.66zM769.09 252.44h7.48v7.73h-7.48zM779.86 252.44h3.89v7.73h-3.89zM794.22 252.44h36.20v7.73h-36.20zM837.30 252.44h7.48v7.73h-7.48zM851.66 252.44h7.48v7.73h-7.48zM869.61 252.44h3.89v7.73h-3.89zM891.15 252.44h3.89v7.73h-3.89zM901.92 252.44h11.07v7.73h-11.07zM927.05 252.44h3.89v7.73h-3.89zM945.00 252.44h3.89v7.73h-3.89zM600.36 259.87h3.89v7.73h-3.89zM636.26 259.87h3.89v7.73h-3.89zM736.78 259.87h21.84v7.73h-21.84zM772.68 259.87h3.89v7.73h-3.89zM779.86 259.87h3.89v7.73h-3.89zM794.22 259.87h14.66v7.73h-14.66zM812.17 259.87h7.48v7.73h-7.48zM826.53 259.87h7.48v7.73h-7.48zM837.30 259.87h7.48v7.73h-7.48zM851.66 259.87h7.48v7.73h-7.48zM869.61 259.87h7.48v7.73h-7.48zM891.15 259.87h3.89v7.73h-3.89zM901.92 259.87h14.66v7.73h-14.66zM927.05 259.87h3.89v7.73h-3.89zM945.00 259.87h7.48v7.73h-7.48zM600.36 267.30h3.89v7.73h-3.89zM682.93 267.30h3.89v7.73h-3.89zM729.60 267.30h21.84v7.73h-21.84zM772.68 267.30h3.89v7.73h-3.89zM779.86 267.30h3.89v7.73h-3.89zM787.04 267.30h3.89v7.73h-3.89zM794.22 267.30h39.79v7.73h-39.79zM837.30 267.30h7.48v7.73h-7.48zM848.07 267.30h11.07v7.73h-11.07zM873.20 267.30h3.89v7.73h-3.89zM880.38 267.30h14.66v7.73h-14.66zM898.33 267.30h3.89v7.73h-3.89zM909.10 267.30h7.48v7.73h-7.48zM919.87 267.30h11.07v7.73h-11.07zM934.23 267.30h7.48v7.73h-7.48zM586.00 274.73h11.07v7.73h-11.07zM600.36 274.73h3.89v7.73h-3.89zM607.54 274.73h7.48v7.73h-7.48zM625.49 274.73h11.07v7.73h-11.07zM661.39 274.73h14.66v7.73h-14.66zM679.34 274.73h7.48v7.73h-7.48zM736.78 274.73h14.66v7.73h-14.66zM787.04 274.73h7.48v7.73h-7.48zM801.40 274.73h32.61v7.73h-32.61zM840.89 274.73h18.25v7.73h-18.25zM869.61 274.73h11.07v7.73h-11.07zM883.97 274.73h7.48v7.73h-7.48zM894.74 274.73h7.48v7.73h-7.48zM905.51 274.73h7.48v7.73h-7.48zM916.28 274.73h3.89v7.73h-3.89zM927.05 274.73h14.66v7.73h-14.66zM586.00 282.16h18.25v7.73h-18.25zM611.13 282.16h3.89v7.73h-3.89zM625.49 282.16h7.48v7.73h-7.48zM661.39 282.16h18.25v7.73h-18.25zM682.93 282.16h3.89v7.73h-3.89zM708.06 282.16h3.89v7.73h-3.89zM743.96 282.16h7.48v7.73h-7.48zM754.73 282.16h7.48v7.73h-7.48zM794.22 282.16h11.07v7.73h-11.07zM812.17 282.16h14.66v7.73h-14.66zM830.12 282.16h21.84v7.73h-21.84zM855.25 282.16h7.48v7.73h-7.48zM866.02 282.16h14.66v7.73h-14.66zM887.56 282.16h3.89v7.73h-3.89zM894.74 282.16h14.66v7.73h-14.66zM927.05 282.16h3.89v7.73h-3.89zM934.23 282.16h7.48v7.73h-7.48zM589.59 289.59h7.48v7.73h-7.48zM611.13 289.59h7.48v7.73h-7.48zM621.90 289.59h3.89v7.73h-3.89zM629.08 289.59h3.89v7.73h-3.89zM661.39 289.59h14.66v7.73h-14.66zM679.34 289.59h7.48v7.73h-7.48zM700.88 289.59h3.89v7.73h-3.89zM708.06 289.59h3.89v7.73h-3.89zM743.96 289.59h18.25v7.73h-18.25zM783.45 289.59h7.48v7.73h-7.48zM801.40 289.59h7.48v7.73h-7.48zM815.76 289.59h3.89v7.73h-3.89zM833.71 289.59h18.25v7.73h-18.25zM855.25 289.59h7.48v7.73h-7.48zM866.02 289.59h3.89v7.73h-3.89zM876.79 289.59h21.84v7.73h-21.84zM905.51 289.59h3.89v7.73h-3.89zM927.05 289.59h3.89v7.73h-3.89zM934.23 289.59h7.48v7.73h-7.48zM611.13 297.02h14.66v7.73h-14.66zM632.67 297.02h14.66v7.73h-14.66zM661.39 297.02h3.89v7.73h-3.89zM668.57 297.02h18.25v7.73h-18.25zM708.06 297.02h11.07v7.73h-11.07zM743.96 297.02h14.66v7.73h-14.66zM761.91 297.02h3.89v7.73h-3.89zM776.27 297.02h3.89v7.73h-3.89zM787.04 297.02h3.89v7.73h-3.89zM808.58 297.02h14.66v7.73h-14.66zM833.71 297.02h18.25v7.73h-18.25zM858.84 297.02h21.84v7.73h-21.84zM891.15 297.02h3.89v7.73h-3.89zM909.10 297.02h7.48v7.73h-7.48zM923.46 297.02h14.66v7.73h-14.66zM607.54 304.45h3.89v7.73h-3.89zM632.67 304.45h3.89v7.73h-3.89zM639.85 304.45h7.48v7.73h-7.48zM675.75 304.45h3.89v7.73h-3.89zM700.88 304.45h7.48v7.73h-7.48zM711.65 304.45h7.48v7.73h-7.48zM747.55 304.45h3.89v7.73h-3.89zM772.68 304.45h7.48v7.73h-7.48zM812.17 304.45h18.25v7.73h-18.25zM833.71 304.45h7.48v7.73h-7.48zM844.48 304.45h36.20v7.73h-36.20zM887.56 304.45h7.48v7.73h-7.48zM898.33 304.45h3.89v7.73h-3.89zM909.10 304.45h11.07v7.73h-11.07zM923.46 304.45h3.89v7.73h-3.89zM589.59 311.88h3.89v7.73h-3.89zM603.95 311.88h14.66v7.73h-14.66zM625.49 311.88h11.07v7.73h-11.07zM639.85 311.88h7.48v7.73h-7.48zM700.88 311.88h3.89v7.73h-3.89zM715.24 311.88h3.89v7.73h-3.89zM736.78 311.88h14.66v7.73h-14.66zM761.91 311.88h11.07v7.73h-11.07zM776.27 311.88h3.89v7.73h-3.89zM783.45 311.88h3.89v7.73h-3.89zM808.58 311.88h3.89v7.73h-3.89zM815.76 311.88h11.07v7.73h-11.07zM830.12 311.88h11.07v7.73h-11.07zM848.07 311.88h25.43v7.73h-25.43zM887.56 311.88h7.48v7.73h-7.48zM909.10 311.88h21.84v7.73h-21.84zM586.00 319.31h7.48v7.73h-7.48zM596.77 319.31h11.07v7.73h-11.07zM621.90 319.31h3.89v7.73h-3.89zM636.26 319.31h11.07v7.73h-11.07zM736.78 319.31h18.25v7.73h-18.25zM765.50 319.31h7.48v7.73h-7.48zM776.27 319.31h3.89v7.73h-3.89zM787.04 319.31h3.89v7.73h-3.89zM815.76 319.31h14.66v7.73h-14.66zM837.30 319.31h18.25v7.73h-18.25zM862.43 319.31h3.89v7.73h-3.89zM869.61 319.31h3.89v7.73h-3.89zM887.56 319.31h43.38v7.73h-43.38zM586.00 326.74h3.89v7.73h-3.89zM596.77 326.74h3.89v7.73h-3.89zM603.95 326.74h3.89v7.73h-3.89zM621.90 326.74h3.89v7.73h-3.89zM636.26 326.74h11.07v7.73h-11.07zM736.78 326.74h21.84v7.73h-21.84zM769.09 326.74h3.89v7.73h-3.89zM783.45 326.74h7.48v7.73h-7.48zM815.76 326.74h7.48v7.73h-7.48zM833.71 326.74h3.89v7.73h-3.89zM844.48 326.74h11.07v7.73h-11.07zM862.43 326.74h11.07v7.73h-11.07zM887.56 326.74h21.84v7.73h-21.84zM912.69 326.74h14.66v7.73h-14.66zM593.18 334.17h3.89v7.73h-3.89zM603.95 334.17h7.48v7.73h-7.48zM621.90 334.17h3.89v7.73h-3.89zM743.96 334.17h14.66v7.73h-14.66zM761.91 334.17h3.89v7.73h-3.89zM772.68 334.17h3.89v7.73h-3.89zM801.40 334.17h3.89v7.73h-3.89zM812.17 334.17h3.89v7.73h-3.89zM822.94 334.17h3.89v7.73h-3.89zM848.07 334.17h7.48v7.73h-7.48zM858.84 334.17h11.07v7.73h-11.07zM873.20 334.17h3.89v7.73h-3.89zM894.74 334.17h29.02v7.73h-29.02zM586.00 341.60h11.07v7.73h-11.07zM600.36 341.60h11.07v7.73h-11.07zM621.90 341.60h11.07v7.73h-11.07zM647.03 341.60h3.89v7.73h-3.89zM718.83 341.60h3.89v7.73h-3.89zM743.96 341.60h3.89v7.73h-3.89zM765.50 341.60h3.89v7.73h-3.89zM772.68 341.60h3.89v7.73h-3.89zM783.45 341.60h3.89v7.73h-3.89zM801.40 341.60h3.89v7.73h-3.89zM812.17 341.60h11.07v7.73h-11.07zM848.07 341.60h14.66v7.73h-14.66zM898.33 341.60h3.89v7.73h-3.89zM909.10 341.60h11.07v7.73h-11.07zM586.00 349.03h18.25v7.73h-18.25zM718.83 349.03h7.48v7.73h-7.48zM740.37 349.03h7.48v7.73h-7.48zM772.68 349.03h3.89v7.73h-3.89zM787.04 349.03h11.07v7.73h-11.07zM801.40 349.03h21.84v7.73h-21.84zM848.07 349.03h14.66v7.73h-14.66zM905.51 349.03h7.48v7.73h-7.48zM586.00 356.46h7.48v7.73h-7.48zM596.77 356.46h3.89v7.73h-3.89zM625.49 356.46h3.89v7.73h-3.89zM690.11 356.46h11.07v7.73h-11.07zM708.06 356.46h11.07v7.73h-11.07zM722.42 356.46h3.89v7.73h-3.89zM736.78 356.46h3.89v7.73h-3.89zM743.96 356.46h3.89v7.73h-3.89zM765.50 356.46h3.89v7.73h-3.89zM794.22 356.46h7.48v7.73h-7.48zM815.76 356.46h7.48v7.73h-7.48zM830.12 356.46h29.02v7.73h-29.02zM869.61 356.46h3.89v7.73h-3.89zM894.74 356.46h3.89v7.73h-3.89zM905.51 356.46h3.89v7.73h-3.89zM912.69 356.46h7.48v7.73h-7.48zM571.64 363.89h21.84v7.73h-21.84zM686.52 363.89h32.61v7.73h-32.61zM736.78 363.89h3.89v7.73h-3.89zM754.73 363.89h3.89v7.73h-3.89zM790.63 363.89h3.89v7.73h-3.89zM815.76 363.89h7.48v7.73h-7.48zM830.12 363.89h7.48v7.73h-7.48zM840.89 363.89h11.07v7.73h-11.07zM873.20 363.89h11.07v7.73h-11.07zM894.74 363.89h3.89v7.73h-3.89zM901.92 363.89h7.48v7.73h-7.48zM568.05 371.32h29.02v7.73h-29.02zM603.95 371.32h11.07v7.73h-11.07zM675.75 371.32h3.89v7.73h-3.89zM682.93 371.32h7.48v7.73h-7.48zM693.70 371.32h3.89v7.73h-3.89zM704.47 371.32h14.66v7.73h-14.66zM736.78 371.32h3.89v7.73h-3.89zM747.55 371.32h7.48v7.73h-7.48zM761.91 371.32h3.89v7.73h-3.89zM808.58 371.32h3.89v7.73h-3.89zM822.94 371.32h3.89v7.73h-3.89zM830.12 371.32h25.43v7.73h-25.43zM898.33 371.32h7.48v7.73h-7.48zM571.64 378.75h18.25v7.73h-18.25zM593.18 378.75h25.43v7.73h-25.43zM675.75 378.75h7.48v7.73h-7.48zM708.06 378.75h14.66v7.73h-14.66zM736.78 378.75h11.07v7.73h-11.07zM751.14 378.75h3.89v7.73h-3.89zM758.32 378.75h3.89v7.73h-3.89zM819.35 378.75h3.89v7.73h-3.89zM833.71 378.75h21.84v7.73h-21.84zM898.33 378.75h7.48v7.73h-7.48zM578.82 386.18h3.89v7.73h-3.89zM600.36 386.18h18.25v7.73h-18.25zM679.34 386.18h3.89v7.73h-3.89zM697.29 386.18h3.89v7.73h-3.89zM708.06 386.18h14.66v7.73h-14.66zM740.37 386.18h7.48v7.73h-7.48zM751.14 386.18h3.89v7.73h-3.89zM797.81 386.18h3.89v7.73h-3.89zM819.35 386.18h3.89v7.73h-3.89zM833.71 386.18h11.07v7.73h-11.07zM848.07 386.18h11.07v7.73h-11.07zM891.15 386.18h7.48v7.73h-7.48zM582.41 393.61h3.89v7.73h-3.89zM600.36 393.61h7.48v7.73h-7.48zM611.13 393.61h7.48v7.73h-7.48zM679.34 393.61h7.48v7.73h-7.48zM697.29 393.61h11.07v7.73h-11.07zM711.65 393.61h3.89v7.73h-3.89zM740.37 393.61h3.89v7.73h-3.89zM747.55 393.61h3.89v7.73h-3.89zM772.68 393.61h3.89v7.73h-3.89zM790.63 393.61h3.89v7.73h-3.89zM822.94 393.61h3.89v7.73h-3.89zM833.71 393.61h3.89v7.73h-3.89zM851.66 393.61h7.48v7.73h-7.48zM891.15 393.61h7.48v7.73h-7.48zM600.36 401.04h7.48v7.73h-7.48zM611.13 401.04h3.89v7.73h-3.89zM618.31 401.04h7.48v7.73h-7.48zM679.34 401.04h7.48v7.73h-7.48zM697.29 401.04h21.84v7.73h-21.84zM740.37 401.04h11.07v7.73h-11.07zM783.45 401.04h3.89v7.73h-3.89zM794.22 401.04h3.89v7.73h-3.89zM808.58 401.04h3.89v7.73h-3.89zM822.94 401.04h3.89v7.73h-3.89zM851.66 401.04h3.89v7.73h-3.89zM891.15 401.04h7.48v7.73h-7.48zM600.36 408.47h11.07v7.73h-11.07zM614.72 408.47h14.66v7.73h-14.66zM686.52 408.47h7.48v7.73h-7.48zM697.29 408.47h14.66v7.73h-14.66zM715.24 408.47h3.89v7.73h-3.89zM733.19 408.47h7.48v7.73h-7.48zM747.55 408.47h3.89v7.73h-3.89zM765.50 408.47h3.89v7.73h-3.89zM783.45 408.47h3.89v7.73h-3.89zM790.63 408.47h3.89v7.73h-3.89zM819.35 408.47h11.07v7.73h-11.07zM833.71 408.47h3.89v7.73h-3.89zM589.59 415.90h18.25v7.73h-18.25zM611.13 415.90h7.48v7.73h-7.48zM621.90 415.90h7.48v7.73h-7.48zM639.85 415.90h3.89v7.73h-3.89zM668.57 415.90h3.89v7.73h-3.89zM690.11 415.90h18.25v7.73h-18.25zM711.65 415.90h11.07v7.73h-11.07zM726.01 415.90h7.48v7.73h-7.48zM754.73 415.90h3.89v7.73h-3.89zM761.91 415.90h3.89v7.73h-3.89zM772.68 415.90h7.48v7.73h-7.48zM797.81 415.90h3.89v7.73h-3.89zM812.17 415.90h25.43v7.73h-25.43zM596.77 423.33h21.84v7.73h-21.84zM621.90 423.33h14.66v7.73h-14.66zM639.85 423.33h3.89v7.73h-3.89zM650.62 423.33h7.48v7.73h-7.48zM664.98 423.33h7.48v7.73h-7.48zM690.11 423.33h18.25v7.73h-18.25zM711.65 423.33h11.07v7.73h-11.07zM751.14 423.33h3.89v7.73h-3.89zM758.32 423.33h3.89v7.73h-3.89zM769.09 423.33h7.48v7.73h-7.48zM794.22 423.33h7.48v7.73h-7.48zM812.17 423.33h7.48v7.73h-7.48zM830.12 423.33h7.48v7.73h-7.48zM603.95 430.76h11.07v7.73h-11.07zM621.90 430.76h3.89v7.73h-3.89zM629.08 430.76h3.89v7.73h-3.89zM639.85 430.76h3.89v7.73h-3.89zM654.21 430.76h18.25v7.73h-18.25zM686.52 430.76h11.07v7.73h-11.07zM700.88 430.76h25.43v7.73h-25.43zM729.60 430.76h3.89v7.73h-3.89zM736.78 430.76h14.66v7.73h-14.66zM754.73 430.76h18.25v7.73h-18.25zM776.27 430.76h3.89v7.73h-3.89zM790.63 430.76h3.89v7.73h-3.89zM801.40 430.76h11.07v7.73h-11.07zM815.76 430.76h7.48v7.73h-7.48zM830.12 430.76h3.89v7.73h-3.89zM625.49 438.19h3.89v7.73h-3.89zM650.62 438.19h18.25v7.73h-18.25zM686.52 438.19h25.43v7.73h-25.43zM718.83 438.19h3.89v7.73h-3.89zM729.60 438.19h18.25v7.73h-18.25zM751.14 438.19h11.07v7.73h-11.07zM765.50 438.19h11.07v7.73h-11.07zM801.40 438.19h3.89v7.73h-3.89zM815.76 438.19h7.48v7.73h-7.48zM614.72 445.62h3.89v7.73h-3.89zM621.90 445.62h7.48v7.73h-7.48zM650.62 445.62h18.25v7.73h-18.25zM690.11 445.62h21.84v7.73h-21.84zM743.96 445.62h3.89v7.73h-3.89zM754.73 445.62h3.89v7.73h-3.89zM765.50 445.62h3.89v7.73h-3.89zM621.90 453.05h3.89v7.73h-3.89zM657.80 453.05h11.07v7.73h-11.07zM693.70 453.05h14.66v7.73h-14.66zM754.73 453.05h3.89v7.73h-3.89zM636.26 475.34h3.89v7.73h-3.89zM639.85 482.77h3.89v7.73h-3.89z"/>
<path fill="#e96230" d="M923.46 96.41h3.89v7.73h-3.89zM912.69 126.13h3.89v7.73h-3.89zM934.23 126.13h3.89v7.73h-3.89zM941.41 126.13h3.89v7.73h-3.89zM955.77 126.13h3.89v7.73h-3.89zM905.51 133.56h3.89v7.73h-3.89zM930.64 133.56h7.48v7.73h-7.48zM955.77 133.56h3.89v7.73h-3.89zM962.95 133.56h3.89v7.73h-3.89zM905.51 140.99h3.89v7.73h-3.89zM927.05 140.99h11.07v7.73h-11.07zM955.77 140.99h3.89v7.73h-3.89zM980.90 140.99h3.89v7.73h-3.89zM988.08 140.99h7.48v7.73h-7.48zM1006.03 140.99h3.89v7.73h-3.89zM808.58 148.42h3.89v7.73h-3.89zM819.35 148.42h3.89v7.73h-3.89zM927.05 148.42h7.48v7.73h-7.48zM941.41 148.42h3.89v7.73h-3.89zM962.95 148.42h3.89v7.73h-3.89zM980.90 148.42h14.66v7.73h-14.66zM1009.62 148.42h3.89v7.73h-3.89zM804.99 155.85h7.48v7.73h-7.48zM815.76 155.85h11.07v7.73h-11.07zM869.61 155.85h3.89v7.73h-3.89zM894.74 155.85h3.89v7.73h-3.89zM909.10 155.85h3.89v7.73h-3.89zM923.46 155.85h7.48v7.73h-7.48zM955.77 155.85h3.89v7.73h-3.89zM962.95 155.85h3.89v7.73h-3.89zM988.08 155.85h7.48v7.73h-7.48zM1013.21 155.85h3.89v7.73h-3.89zM808.58 163.28h3.89v7.73h-3.89zM815.76 163.28h3.89v7.73h-3.89zM822.94 163.28h3.89v7.73h-3.89zM866.02 163.28h7.48v7.73h-7.48zM880.38 163.28h3.89v7.73h-3.89zM894.74 163.28h3.89v7.73h-3.89zM923.46 163.28h3.89v7.73h-3.89zM959.36 163.28h7.48v7.73h-7.48zM1013.21 163.28h3.89v7.73h-3.89zM815.76 170.71h3.89v7.73h-3.89zM822.94 170.71h3.89v7.73h-3.89zM866.02 170.71h3.89v7.73h-3.89zM873.20 170.71h3.89v7.73h-3.89zM883.97 170.71h3.89v7.73h-3.89zM894.74 170.71h7.48v7.73h-7.48zM912.69 170.71h3.89v7.73h-3.89zM959.36 170.71h11.07v7.73h-11.07zM1002.44 170.71h7.48v7.73h-7.48zM743.96 178.14h7.48v7.73h-7.48zM815.76 178.14h3.89v7.73h-3.89zM822.94 178.14h3.89v7.73h-3.89zM876.79 178.14h3.89v7.73h-3.89zM883.97 178.14h3.89v7.73h-3.89zM905.51 178.14h3.89v7.73h-3.89zM916.28 178.14h3.89v7.73h-3.89zM973.72 178.14h3.89v7.73h-3.89zM984.49 178.14h3.89v7.73h-3.89zM991.67 178.14h3.89v7.73h-3.89zM998.85 178.14h3.89v7.73h-3.89zM1006.03 178.14h3.89v7.73h-3.89zM743.96 185.57h11.07v7.73h-11.07zM815.76 185.57h3.89v7.73h-3.89zM876.79 185.57h3.89v7.73h-3.89zM887.56 185.57h7.48v7.73h-7.48zM984.49 185.57h3.89v7.73h-3.89zM1006.03 185.57h7.48v7.73h-7.48zM715.24 193.00h3.89v7.73h-3.89zM761.91 193.00h3.89v7.73h-3.89zM776.27 193.00h3.89v7.73h-3.89zM862.43 193.00h7.48v7.73h-7.48zM887.56 193.00h3.89v7.73h-3.89zM894.74 193.00h3.89v7.73h-3.89zM952.18 193.00h3.89v7.73h-3.89zM959.36 193.00h3.89v7.73h-3.89zM761.91 200.43h3.89v7.73h-3.89zM862.43 200.43h3.89v7.73h-3.89zM869.61 200.43h3.89v7.73h-3.89zM876.79 200.43h14.66v7.73h-14.66zM894.74 200.43h3.89v7.73h-3.89zM919.87 200.43h3.89v7.73h-3.89zM952.18 200.43h3.89v7.73h-3.89zM959.36 200.43h3.89v7.73h-3.89zM862.43 207.86h3.89v7.73h-3.89zM869.61 207.86h3.89v7.73h-3.89zM876.79 207.86h3.89v7.73h-3.89zM883.97 207.86h3.89v7.73h-3.89zM901.92 207.86h3.89v7.73h-3.89zM909.10 207.86h7.48v7.73h-7.48zM919.87 207.86h3.89v7.73h-3.89zM934.23 207.86h3.89v7.73h-3.89zM952.18 207.86h3.89v7.73h-3.89zM959.36 207.86h3.89v7.73h-3.89zM858.84 215.29h18.25v7.73h-18.25zM887.56 215.29h3.89v7.73h-3.89zM912.69 215.29h3.89v7.73h-3.89zM919.87 215.29h3.89v7.73h-3.89zM934.23 215.29h3.89v7.73h-3.89zM945.00 215.29h3.89v7.73h-3.89zM959.36 215.29h3.89v7.73h-3.89zM808.58 222.72h3.89v7.73h-3.89zM862.43 222.72h3.89v7.73h-3.89zM909.10 222.72h14.66v7.73h-14.66zM930.64 222.72h3.89v7.73h-3.89zM941.41 222.72h3.89v7.73h-3.89zM959.36 222.72h11.07v7.73h-11.07zM801.40 230.15h3.89v7.73h-3.89zM844.48 230.15h11.07v7.73h-11.07zM862.43 230.15h3.89v7.73h-3.89zM912.69 230.15h11.07v7.73h-11.07zM952.18 230.15h7.48v7.73h-7.48zM790.63 237.58h3.89v7.73h-3.89zM801.40 237.58h3.89v7.73h-3.89zM844.48 237.58h11.07v7.73h-11.07zM894.74 237.58h3.89v7.73h-3.89zM905.51 237.58h3.89v7.73h-3.89zM912.69 237.58h3.89v7.73h-3.89zM919.87 237.58h3.89v7.73h-3.89zM941.41 237.58h3.89v7.73h-3.89zM776.27 245.01h3.89v7.73h-3.89zM783.45 245.01h3.89v7.73h-3.89zM801.40 245.01h3.89v7.73h-3.89zM844.48 245.01h7.48v7.73h-7.48zM869.61 245.01h3.89v7.73h-3.89zM894.74 245.01h3.89v7.73h-3.89zM901.92 245.01h18.25v7.73h-18.25zM923.46 245.01h3.89v7.73h-3.89zM937.82 245.01h3.89v7.73h-3.89zM952.18 245.01h3.89v7.73h-3.89zM758.32 252.44h11.07v7.73h-11.07zM776.27 252.44h3.89v7.73h-3.89zM783.45 252.44h3.89v7.73h-3.89zM790.63 252.44h3.89v7.73h-3.89zM830.12 252.44h7.48v7.73h-7.48zM844.48 252.44h7.48v7.73h-7.48zM894.74 252.44h7.48v7.73h-7.48zM912.69 252.44h3.89v7.73h-3.89zM948.59 252.44h3.89v7.73h-3.89zM758.32 259.87h14.66v7.73h-14.66zM776.27 259.87h3.89v7.73h-3.89zM783.45 259.87h3.89v7.73h-3.89zM819.35 259.87h7.48v7.73h-7.48zM833.71 259.87h3.89v7.73h-3.89zM844.48 259.87h7.48v7.73h-7.48zM876.79 259.87h3.89v7.73h-3.89zM894.74 259.87h7.48v7.73h-7.48zM919.87 259.87h3.89v7.73h-3.89zM930.64 259.87h11.07v7.73h-11.07zM751.14 267.30h21.84v7.73h-21.84zM776.27 267.30h3.89v7.73h-3.89zM783.45 267.30h3.89v7.73h-3.89zM833.71 267.30h3.89v7.73h-3.89zM844.48 267.30h3.89v7.73h-3.89zM894.74 267.30h3.89v7.73h-3.89zM901.92 267.30h3.89v7.73h-3.89zM916.28 267.30h3.89v7.73h-3.89zM930.64 267.30h3.89v7.73h-3.89zM941.41 267.30h3.89v7.73h-3.89zM751.14 274.73h36.20v7.73h-36.20zM794.22 274.73h7.48v7.73h-7.48zM833.71 274.73h7.48v7.73h-7.48zM891.15 274.73h3.89v7.73h-3.89zM901.92 274.73h3.89v7.73h-3.89zM679.34 282.16h3.89v7.73h-3.89zM751.14 282.16h3.89v7.73h-3.89zM761.91 282.16h3.89v7.73h-3.89zM769.09 282.16h3.89v7.73h-3.89zM776.27 282.16h18.25v7.73h-18.25zM851.66 282.16h3.89v7.73h-3.89zM883.97 282.16h3.89v7.73h-3.89zM891.15 282.16h3.89v7.73h-3.89zM625.49 289.59h3.89v7.73h-3.89zM675.75 289.59h3.89v7.73h-3.89zM772.68 289.59h11.07v7.73h-11.07zM790.63 289.59h3.89v7.73h-3.89zM797.81 289.59h3.89v7.73h-3.89zM851.66 289.59h3.89v7.73h-3.89zM625.49 297.02h7.48v7.73h-7.48zM758.32 297.02h3.89v7.73h-3.89zM765.50 297.02h3.89v7.73h-3.89zM772.68 297.02h3.89v7.73h-3.89zM779.86 297.02h3.89v7.73h-3.89zM801.40 297.02h7.48v7.73h-7.48zM851.66 297.02h3.89v7.73h-3.89zM611.13 304.45h21.84v7.73h-21.84zM636.26 304.45h3.89v7.73h-3.89zM751.14 304.45h7.48v7.73h-7.48zM761.91 304.45h7.48v7.73h-7.48zM801.40 304.45h3.89v7.73h-3.89zM618.31 311.88h7.48v7.73h-7.48zM636.26 311.88h3.89v7.73h-3.89zM751.14 311.88h11.07v7.73h-11.07zM787.04 311.88h3.89v7.73h-3.89zM812.17 311.88h3.89v7.73h-3.89zM826.53 311.88h3.89v7.73h-3.89zM754.73 319.31h11.07v7.73h-11.07zM772.68 319.31h3.89v7.73h-3.89zM783.45 319.31h3.89v7.73h-3.89zM830.12 319.31h3.89v7.73h-3.89zM761.91 326.74h7.48v7.73h-7.48zM772.68 326.74h7.48v7.73h-7.48zM801.40 326.74h7.48v7.73h-7.48zM812.17 326.74h3.89v7.73h-3.89zM826.53 326.74h7.48v7.73h-7.48zM837.30 326.74h7.48v7.73h-7.48zM596.77 334.17h3.89v7.73h-3.89zM758.32 334.17h3.89v7.73h-3.89zM765.50 334.17h3.89v7.73h-3.89zM783.45 334.17h3.89v7.73h-3.89zM815.76 334.17h7.48v7.73h-7.48zM826.53 334.17h21.84v7.73h-21.84zM596.77 341.60h3.89v7.73h-3.89zM747.55 341.60h3.89v7.73h-3.89zM758.32 341.60h7.48v7.73h-7.48zM769.09 341.60h3.89v7.73h-3.89zM790.63 341.60h7.48v7.73h-7.48zM804.99 341.60h3.89v7.73h-3.89zM822.94 341.60h3.89v7.73h-3.89zM830.12 341.60h3.89v7.73h-3.89zM840.89 341.60h7.48v7.73h-7.48zM754.73 349.03h3.89v7.73h-3.89zM765.50 349.03h3.89v7.73h-3.89zM797.81 349.03h3.89v7.73h-3.89zM822.94 349.03h25.43v7.73h-25.43zM912.69 349.03h7.48v7.73h-7.48zM593.18 356.46h3.89v7.73h-3.89zM600.36 356.46h3.89v7.73h-3.89zM747.55 356.46h11.07v7.73h-11.07zM801.40 356.46h7.48v7.73h-7.48zM826.53 356.46h3.89v7.73h-3.89zM593.18 363.89h14.66v7.73h-14.66zM743.96 363.89h11.07v7.73h-11.07zM758.32 363.89h3.89v7.73h-3.89zM769.09 363.89h3.89v7.73h-3.89zM801.40 363.89h3.89v7.73h-3.89zM808.58 363.89h7.48v7.73h-7.48zM822.94 363.89h7.48v7.73h-7.48zM596.77 371.32h7.48v7.73h-7.48zM690.11 371.32h3.89v7.73h-3.89zM697.29 371.32h7.48v7.73h-7.48zM743.96 371.32h3.89v7.73h-3.89zM754.73 371.32h7.48v7.73h-7.48zM776.27 371.32h3.89v7.73h-3.89zM801.40 371.32h3.89v7.73h-3.89zM812.17 371.32h7.48v7.73h-7.48zM682.93 378.75h25.43v7.73h-25.43zM747.55 378.75h3.89v7.73h-3.89zM754.73 378.75h3.89v7.73h-3.89zM761.91 378.75h11.07v7.73h-11.07zM804.99 378.75h11.07v7.73h-11.07zM826.53 378.75h7.48v7.73h-7.48zM686.52 386.18h11.07v7.73h-11.07zM700.88 386.18h7.48v7.73h-7.48zM747.55 386.18h3.89v7.73h-3.89zM754.73 386.18h11.07v7.73h-11.07zM776.27 386.18h3.89v7.73h-3.89zM790.63 386.18h3.89v7.73h-3.89zM804.99 386.18h7.48v7.73h-7.48zM822.94 386.18h11.07v7.73h-11.07zM690.11 393.61h7.48v7.73h-7.48zM751.14 393.61h3.89v7.73h-3.89zM776.27 393.61h3.89v7.73h-3.89zM797.81 393.61h3.89v7.73h-3.89zM815.76 393.61h7.48v7.73h-7.48zM826.53 393.61h7.48v7.73h-7.48zM614.72 401.04h3.89v7.73h-3.89zM686.52 401.04h11.07v7.73h-11.07zM751.14 401.04h3.89v7.73h-3.89zM772.68 401.04h11.07v7.73h-11.07zM790.63 401.04h3.89v7.73h-3.89zM797.81 401.04h7.48v7.73h-7.48zM819.35 401.04h3.89v7.73h-3.89zM826.53 401.04h7.48v7.73h-7.48zM611.13 408.47h3.89v7.73h-3.89zM693.70 408.47h3.89v7.73h-3.89zM740.37 408.47h7.48v7.73h-7.48zM751.14 408.47h3.89v7.73h-3.89zM772.68 408.47h3.89v7.73h-3.89zM779.86 408.47h3.89v7.73h-3.89zM787.04 408.47h3.89v7.73h-3.89zM794.22 408.47h7.48v7.73h-7.48zM808.58 408.47h11.07v7.73h-11.07zM830.12 408.47h3.89v7.73h-3.89zM607.54 415.90h3.89v7.73h-3.89zM736.78 415.90h3.89v7.73h-3.89zM751.14 415.90h3.89v7.73h-3.89zM758.32 415.90h3.89v7.73h-3.89zM765.50 415.90h7.48v7.73h-7.48zM779.86 415.90h11.07v7.73h-11.07zM736.78 423.33h14.66v7.73h-14.66zM761.91 423.33h7.48v7.73h-7.48zM776.27 423.33h14.66v7.73h-14.66zM804.99 423.33h7.48v7.73h-7.48zM625.49 430.76h3.89v7.73h-3.89zM733.19 430.76h3.89v7.73h-3.89zM772.68 430.76h3.89v7.73h-3.89zM779.86 430.76h11.07v7.73h-11.07zM797.81 430.76h3.89v7.73h-3.89zM812.17 430.76h3.89v7.73h-3.89zM794.22 438.19h7.48v7.73h-7.48z"/>
<path fill="#cb4149" d="M1009.62 140.99h7.48v7.73h-7.48zM1013.21 148.42h3.89v7.73h-3.89zM876.79 163.28h3.89v7.73h-3.89zM876.79 170.71h7.48v7.73h-7.48zM866.02 178.14h3.89v7.73h-3.89zM880.38 178.14h3.89v7.73h-3.89zM866.02 185.57h3.89v7.73h-3.89zM898.33 185.57h3.89v7.73h-3.89zM898.33 193.00h3.89v7.73h-3.89zM901.92 200.43h3.89v7.73h-3.89zM568.05 207.86h3.89v7.73h-3.89zM880.38 207.86h3.89v7.73h-3.89zM876.79 215.29h3.89v7.73h-3.89zM948.59 215.29h3.89v7.73h-3.89zM866.02 222.72h7.48v7.73h-7.48zM880.38 222.72h3.89v7.73h-3.89zM887.56 222.72h7.48v7.73h-7.48zM934.23 222.72h3.89v7.73h-3.89zM945.00 222.72h7.48v7.73h-7.48zM866.02 230.15h3.89v7.73h-3.89zM891.15 230.15h7.48v7.73h-7.48zM927.05 230.15h3.89v7.73h-3.89zM869.61 237.58h3.89v7.73h-3.89zM898.33 237.58h3.89v7.73h-3.89zM909.10 237.58h3.89v7.73h-3.89zM927.05 237.58h3.89v7.73h-3.89zM952.18 237.58h3.89v7.73h-3.89zM919.87 245.01h3.89v7.73h-3.89zM927.05 245.01h3.89v7.73h-3.89zM873.20 252.44h7.48v7.73h-7.48zM916.28 252.44h3.89v7.73h-3.89zM923.46 252.44h3.89v7.73h-3.89zM934.23 252.44h3.89v7.73h-3.89zM916.28 259.87h3.89v7.73h-3.89zM923.46 259.87h3.89v7.73h-3.89zM941.41 259.87h3.89v7.73h-3.89zM772.68 282.16h3.89v7.73h-3.89zM761.91 289.59h3.89v7.73h-3.89zM794.22 289.59h3.89v7.73h-3.89zM783.45 297.02h3.89v7.73h-3.89zM797.81 297.02h3.89v7.73h-3.89zM758.32 304.45h3.89v7.73h-3.89zM790.63 304.45h3.89v7.73h-3.89zM808.58 304.45h3.89v7.73h-3.89zM794.22 311.88h3.89v7.73h-3.89zM779.86 319.31h3.89v7.73h-3.89zM790.63 319.31h7.48v7.73h-7.48zM812.17 319.31h3.89v7.73h-3.89zM779.86 334.17h3.89v7.73h-3.89zM787.04 334.17h3.89v7.73h-3.89zM751.14 341.60h7.48v7.73h-7.48zM776.27 341.60h3.89v7.73h-3.89zM808.58 341.60h3.89v7.73h-3.89zM826.53 341.60h3.89v7.73h-3.89zM833.71 341.60h7.48v7.73h-7.48zM747.55 349.03h3.89v7.73h-3.89zM758.32 349.03h3.89v7.73h-3.89zM769.09 349.03h3.89v7.73h-3.89zM740.37 356.46h3.89v7.73h-3.89zM758.32 356.46h3.89v7.73h-3.89zM808.58 356.46h7.48v7.73h-7.48zM822.94 356.46h3.89v7.73h-3.89zM794.22 363.89h3.89v7.73h-3.89zM740.37 371.32h3.89v7.73h-3.89zM765.50 371.32h3.89v7.73h-3.89zM790.63 371.32h3.89v7.73h-3.89zM826.53 371.32h3.89v7.73h-3.89zM682.93 386.18h3.89v7.73h-3.89zM815.76 386.18h3.89v7.73h-3.89zM686.52 393.61h3.89v7.73h-3.89zM754.73 393.61h3.89v7.73h-3.89zM794.22 393.61h3.89v7.73h-3.89zM808.58 393.61h3.89v7.73h-3.89zM769.09 401.04h3.89v7.73h-3.89zM769.09 408.47h3.89v7.73h-3.89zM733.19 415.90h3.89v7.73h-3.89zM733.19 423.33h3.89v7.73h-3.89zM754.73 423.33h3.89v7.73h-3.89zM718.83 482.77h3.89v7.73h-3.89z"/>
<path fill="#a92e5e" d="M912.69 155.85h3.89v7.73h-3.89zM891.15 200.43h3.89v7.73h-3.89zM905.51 222.72h3.89v7.73h-3.89zM869.61 230.15h3.89v7.73h-3.89zM887.56 230.15h3.89v7.73h-3.89zM898.33 230.15h7.48v7.73h-7.48zM909.10 230.15h3.89v7.73h-3.89zM930.64 230.15h7.48v7.73h-7.48zM876.79 237.58h3.89v7.73h-3.89zM934.23 237.58h7.48v7.73h-7.48zM945.00 237.58h3.89v7.73h-3.89zM873.20 245.01h3.89v7.73h-3.89zM898.33 245.01h3.89v7.73h-3.89zM948.59 245.01h3.89v7.73h-3.89zM919.87 252.44h3.89v7.73h-3.89zM937.82 252.44h3.89v7.73h-3.89zM765.50 289.59h7.48v7.73h-7.48zM769.09 297.02h3.89v7.73h-3.89zM794.22 297.02h3.89v7.73h-3.89zM769.09 304.45h3.89v7.73h-3.89zM779.86 304.45h3.89v7.73h-3.89zM787.04 304.45h3.89v7.73h-3.89zM794.22 304.45h7.48v7.73h-7.48zM804.99 304.45h3.89v7.73h-3.89zM790.63 311.88h3.89v7.73h-3.89zM801.40 311.88h3.89v7.73h-3.89zM804.99 319.31h3.89v7.73h-3.89zM779.86 326.74h3.89v7.73h-3.89zM797.81 326.74h3.89v7.73h-3.89zM808.58 326.74h3.89v7.73h-3.89zM776.27 334.17h3.89v7.73h-3.89zM790.63 334.17h3.89v7.73h-3.89zM797.81 334.17h3.89v7.73h-3.89zM783.45 349.03h3.89v7.73h-3.89zM761.91 356.46h3.89v7.73h-3.89zM772.68 356.46h11.07v7.73h-11.07zM765.50 363.89h3.89v7.73h-3.89zM822.94 378.75h3.89v7.73h-3.89zM812.17 386.18h3.89v7.73h-3.89zM812.17 393.61h3.89v7.73h-3.89zM754.73 401.04h3.89v7.73h-3.89zM812.17 401.04h3.89v7.73h-3.89zM747.55 415.90h3.89v7.73h-3.89zM722.42 482.77h3.89v7.73h-3.89z"/>
<path fill="#85216b" d="M912.69 148.42h3.89v7.73h-3.89zM891.15 207.86h3.89v7.73h-3.89zM898.33 207.86h3.89v7.73h-3.89zM568.05 215.29h3.89v7.73h-3.89zM901.92 215.29h3.89v7.73h-3.89zM883.97 222.72h3.89v7.73h-3.89zM894.74 222.72h3.89v7.73h-3.89zM873.20 230.15h7.48v7.73h-7.48zM883.97 230.15h3.89v7.73h-3.89zM937.82 230.15h7.48v7.73h-7.48zM948.59 230.15h3.89v7.73h-3.89zM930.64 237.58h3.89v7.73h-3.89zM930.64 245.01h7.48v7.73h-7.48zM941.41 245.01h3.89v7.73h-3.89zM930.64 252.44h3.89v7.73h-3.89zM883.97 259.87h7.48v7.73h-7.48zM790.63 297.02h3.89v7.73h-3.89zM783.45 304.45h3.89v7.73h-3.89zM779.86 311.88h3.89v7.73h-3.89zM797.81 311.88h3.89v7.73h-3.89zM804.99 311.88h3.89v7.73h-3.89zM797.81 319.31h7.48v7.73h-7.48zM790.63 326.74h3.89v7.73h-3.89zM794.22 334.17h3.89v7.73h-3.89zM779.86 341.60h3.89v7.73h-3.89zM607.54 356.46h3.89v7.73h-3.89zM769.09 356.46h3.89v7.73h-3.89zM783.45 356.46h3.89v7.73h-3.89zM607.54 363.89h3.89v7.73h-3.89zM761.91 363.89h3.89v7.73h-3.89zM772.68 363.89h3.89v7.73h-3.89zM797.81 363.89h3.89v7.73h-3.89zM804.99 363.89h3.89v7.73h-3.89zM779.86 378.75h3.89v7.73h-3.89zM815.76 378.75h3.89v7.73h-3.89zM794.22 386.18h3.89v7.73h-3.89zM801.40 386.18h3.89v7.73h-3.89zM758.32 393.61h3.89v7.73h-3.89zM801.40 393.61h3.89v7.73h-3.89zM787.04 401.04h3.89v7.73h-3.89zM804.99 401.04h3.89v7.73h-3.89zM815.76 401.04h3.89v7.73h-3.89zM776.27 408.47h3.89v7.73h-3.89zM801.40 408.47h7.48v7.73h-7.48zM740.37 415.90h7.48v7.73h-7.48zM790.63 415.90h3.89v7.73h-3.89zM808.58 415.90h3.89v7.73h-3.89zM801.40 423.33h3.89v7.73h-3.89z"/>
<path fill="#5f136e" d="M912.69 140.99h3.89v7.73h-3.89zM1002.44 140.99h3.89v7.73h-3.89zM887.56 163.28h7.48v7.73h-7.48zM894.74 178.14h7.48v7.73h-7.48zM894.74 185.57h3.89v7.73h-3.89zM894.74 207.86h3.89v7.73h-3.89zM571.64 215.29h3.89v7.73h-3.89zM891.15 215.29h11.07v7.73h-11.07zM898.33 222.72h7.48v7.73h-7.48zM880.38 230.15h3.89v7.73h-3.89zM880.38 237.58h3.89v7.73h-3.89zM887.56 252.44h3.89v7.73h-3.89zM808.58 319.31h3.89v7.73h-3.89zM758.32 326.74h3.89v7.73h-3.89zM804.99 334.17h7.48v7.73h-7.48zM797.81 341.60h3.89v7.73h-3.89zM751.14 349.03h3.89v7.73h-3.89zM776.27 349.03h7.48v7.73h-7.48zM629.08 356.46h3.89v7.73h-3.89zM787.04 356.46h7.48v7.73h-7.48zM787.04 363.89h3.89v7.73h-3.89zM769.09 371.32h3.89v7.73h-3.89zM787.04 371.32h3.89v7.73h-3.89zM794.22 371.32h3.89v7.73h-3.89zM772.68 378.75h7.48v7.73h-7.48zM783.45 378.75h7.48v7.73h-7.48zM794.22 378.75h3.89v7.73h-3.89zM801.40 378.75h3.89v7.73h-3.89zM779.86 386.18h3.89v7.73h-3.89zM787.04 386.18h3.89v7.73h-3.89zM765.50 393.61h7.48v7.73h-7.48zM779.86 393.61h11.07v7.73h-11.07zM804.99 393.61h3.89v7.73h-3.89zM761.91 408.47h3.89v7.73h-3.89zM794.22 415.90h3.89v7.73h-3.89zM801.40 415.90h7.48v7.73h-7.48zM726.01 423.33h7.48v7.73h-7.48zM790.63 423.33h3.89v7.73h-3.89zM726.01 430.76h3.89v7.73h-3.89z"/>
<path fill="#390963" d="M905.51 126.13h7.48v7.73h-7.48zM883.97 237.58h3.89v7.73h-3.89zM891.15 237.58h3.89v7.73h-3.89zM883.97 245.01h7.48v7.73h-7.48zM880.38 252.44h7.48v7.73h-7.48zM794.22 326.74h3.89v7.73h-3.89zM603.95 356.46h3.89v7.73h-3.89zM776.27 363.89h3.89v7.73h-3.89zM783.45 363.89h3.89v7.73h-3.89zM772.68 371.32h3.89v7.73h-3.89zM779.86 371.32h7.48v7.73h-7.48zM797.81 371.32h3.89v7.73h-3.89zM804.99 371.32h3.89v7.73h-3.89zM790.63 378.75h3.89v7.73h-3.89zM797.81 378.75h3.89v7.73h-3.89zM765.50 386.18h11.07v7.73h-11.07zM783.45 386.18h3.89v7.73h-3.89zM761.91 393.61h3.89v7.73h-3.89zM758.32 401.04h3.89v7.73h-3.89zM765.50 401.04h3.89v7.73h-3.89zM754.73 408.47h3.89v7.73h-3.89z"/>
<path fill="#140b34" d="M916.28 133.56h3.89v7.73h-3.89zM887.56 237.58h3.89v7.73h-3.89zM779.86 363.89h3.89v7.73h-3.89zM761.91 401.04h3.89v7.73h-3.89zM758.32 408.47h3.89v7.73h-3.89z"/>
<path fill="#000004" d="M912.69 133.56h3.89v7.73h-3.89zM876.79 245.01h7.48v7.73h-7.48zM603.95 349.03h3.89v7.73h-3.89zM761.91 349.03h3.89v7.73h-3.89z"/>
</g><g filter="url(#bs)">
<g fill="none" stroke="#181818" stroke-width="1.3" stroke-linejoin="round" stroke-opacity="0.92">
<polygon points="600.8,165.0 604.8,161.0 608.8,160.5 613.4,164.7 622.8,178.0 634.6,192.0 640.8,200.5 651.6,203.7 668.5,201.5 687.6,205.8 700.3,201.5 715.1,200.5 717.2,195.0 723.6,194.0 723.6,186.0 723.6,161.6 734.2,157.3 751.1,160.5 770.8,154.1 774.0,136.1 783.5,133.0 790.8,136.0 796.2,142.5 802.6,143.5 803.6,146.7 816.3,137.2 824.8,125.5 826.8,127.7 832.2,124.5 838.6,111.8 840.7,101.2 847.1,92.7 848.1,85.3 861.8,82.2 872.5,82.2 876.7,88.5 887.3,88.9 890.5,93.1 897.9,88.5 905.3,88.9 906.4,83.2 914.8,82.2 919.1,85.3 921.2,91.6 927.6,93.8 931.8,109.7 937.1,115.0 946.6,113.9 947.7,109.7 961.5,109.7 970.2,104.6 975.8,106.0 977.2,119.0 985.0,129.0 992.8,131.3 994.0,138.0 999.8,141.5 1000.8,150.6 1011.0,152.8 1014.4,149.4 1015.4,160.0 1015.4,178.0 1013.3,185.7 1011.0,191.4 1007.6,193.6 1006.5,199.3 1000.8,200.4 996.3,196.5 991.8,198.0 987.2,203.8 978.2,206.0 974.2,213.2 969.8,215.3 968.8,227.0 958.3,234.4 954.1,245.0 955.1,253.4 950.8,264.0 943.5,276.7 940.3,291.6 938.2,304.0 932.8,312.5 932.8,323.0 926.5,327.3 925.5,336.8 920.2,340.0 920.2,361.2 912.8,364.4 911.8,371.8 904.6,372.9 903.6,400.4 897.8,403.6 897.3,416.0 897.8,419.2 892.6,421.3 891.6,427.7 883.1,425.5 876.8,423.4 870.4,425.5 869.3,434.0 861.8,436.0 859.8,440.4 853.4,443.5 852.4,438.2 847.1,437.2 846.0,441.4 832.2,441.4 825.8,442.5 817.4,443.5 816.3,440.4 811.1,443.5 810.0,440.4 796.2,444.6 789.8,437.0 773.8,442.5 770.8,451.0 767.0,457.3 759.6,458.4 758.6,463.7 751.1,465.8 744.8,461.5 743.8,469.0 737.4,473.2 729.8,475.3 724.7,478.5 717.2,476.4 710.8,481.7 707.7,490.2 697.8,500.0 657.8,500.0 645.2,490.2 638.8,483.8 635.7,474.3 621.8,471.0 615.5,469.0 613.6,456.0 606.8,455.5 606.8,438.0 598.8,437.5 591.4,433.3 585.0,425.9 585.0,414.2 580.8,410.0 579.4,408.0 573.1,406.0 569.8,401.8 567.8,395.4 555.6,388.0 555.6,383.8 551.3,372.0 552.0,367.6 546.7,359.0 547.8,346.4 543.5,335.8 532.8,333.7 530.8,330.0 534.0,325.2 543.5,312.5 550.8,314.6 556.2,310.4 555.2,304.0 555.2,287.3 548.8,285.2 549.8,278.9 555.2,276.7 555.2,266.0 548.8,263.0 555.2,254.5 561.5,254.5 562.6,251.3 564.7,252.4 570.0,247.0 570.0,218.5 555.2,220.6 548.8,218.5 556.2,209.0 564.7,202.6 576.3,213.2 582.7,210.0 583.8,213.0 598.6,212.0 598.6,192.0 593.3,187.0 599.6,183.8 599.6,171.0"/>
<polyline points="591.4,81.7 586.8,93.0 580.2,110.0 581.0,112.5 583.0,113.5 583.8,118.0 587.8,125.5 587.4,128.0 590.8,136.0 593.0,143.5 599.6,147.8 599.6,163.7 600.8,165.0"/>
<polyline points="970.0,81.7 970.0,104.6"/>
<polyline points="540.3,385.0 540.3,405.7 532.8,405.7"/>
<polyline points="825.8,442.5 832.8,455.0 840.8,469.0 853.4,479.6 856.6,490.2"/>
<polyline points="724.7,478.5 727.8,484.0 729.8,490.2"/>
<polyline points="832.2,441.4 832.2,446.7"/>
</g>
<g fill="none" stroke="#3530b0" stroke-width="1.2" stroke-linejoin="round" stroke-linecap="round" stroke-opacity="0.78">
<polyline points="590.5,81.7 585.8,93.0 578.8,111.3 582.4,117.5 586.2,126.0 589.4,136.5 591.6,143.5"/>
<polyline points="589.2,81.7 584.6,93.0"/>
<polyline points="542.4,115.0 544.8,124.0 548.8,132.0 553.8,139.0 560.5,144.6 569.8,148.0 579.5,148.8 585.8,146.5 591.2,142.5 595.8,146.5 602.8,147.8"/>
<polyline points="729.1,195.2 732.5,199.7 738.2,195.2 743.8,201.0 747.2,207.7 746.8,215.3 746.1,223.5 741.6,232.6 741.6,241.7 745.0,250.8 743.8,259.8 741.6,271.0 737.0,284.8 735.9,298.4 734.4,306.0 733.1,325.2 736.3,346.4 734.2,365.4 727.8,369.7 731.0,388.7 729.8,416.0 732.1,437.2 729.8,458.4 729.8,471.0 724.7,478.5 728.3,484.0 731.3,490.2"/>
<polyline points="732.5,199.7 739.3,204.0 742.6,212.0 743.0,222.0 741.6,232.6"/>
<polyline points="743.3,252.5 738.8,256.0 734.8,262.0 731.3,276.0 729.1,292.0 731.1,302.0 734.0,309.0"/>
<polyline points="732.1,437.2 723.8,447.0 717.2,456.3 715.1,462.6 719.8,471.0 724.7,478.5"/>
<polyline points="969.8,105.4 965.8,112.0 964.6,116.0 962.8,121.0 957.2,122.4 950.8,129.8 940.3,137.2 927.6,141.4 917.0,145.7 913.8,156.3 906.4,161.6 897.8,163.7 890.5,171.0 888.3,182.0 887.3,192.0 880.8,204.7 866.1,215.3 861.8,228.0 851.3,240.7 838.6,253.4 839.7,259.8 844.8,266.0 842.8,274.6 834.4,278.9 828.0,287.3 822.8,298.0 823.8,304.0 830.1,311.4 820.6,318.8 820.6,327.3 813.2,335.8 816.3,346.4 823.8,361.2 821.6,378.0 825.8,397.0 825.8,416.0 824.8,424.5 818.5,437.2 816.3,441.4"/>
<polyline points="974.2,105.4 973.8,115.0 973.1,124.5 974.8,131.0 977.4,139.3 980.4,154.0 984.8,164.0 990.6,174.4 995.8,182.0 1000.8,188.0 1006.5,193.6"/>
<polyline points="536.0,379.0 538.3,383.0 540.8,385.9 549.8,385.9 555.3,387.5 567.3,394.8 569.4,401.5 572.6,405.8 579.0,407.9 584.4,414.5 584.4,425.9 587.2,430.0 594.6,441.8 599.8,446.5 606.4,447.6 606.4,455.5 613.1,456.3 614.2,466.0 615.8,471.0 622.8,473.0 630.8,475.0 635.8,478.0 637.8,485.0 641.8,490.2"/>
</g>
<g fill="none" stroke="#3a30d8" stroke-width="1.7" stroke-linejoin="round" stroke-linecap="round" stroke-opacity="0.95">
<polyline points="605.3,157.5 608.8,160.5 616.8,169.0 624.8,180.0 634.6,192.0 640.8,200.5 651.6,203.7 668.5,201.5 687.6,205.8 700.3,201.5 715.1,200.8 716.3,196.5 723.8,196.0 729.1,195.2"/>
</g>
<g fill="none" stroke="#4a40f0" stroke-width="0.95" stroke-linejoin="round" stroke-opacity="0.8">
<polyline points="814.2,442.5 813.8,449.0 815.3,454.0 814.3,459.0 816.3,464.0 815.6,469.0 817.8,474.0 817.0,479.0 818.8,484.0 819.5,490.2"/>
<polyline points="532.8,406.5 539.2,407.0 543.4,412.4 548.8,416.0 554.0,418.7 562.5,416.6 569.8,418.7 579.4,418.7 584.4,423.0"/>
</g>
</g></g>
<rect x="532.9" y="81.7" width="483.0" height="408.8" fill="none" stroke="#969696" stroke-width="1.55" filter="url(#bf)"/>
<g filter="url(#bt)">
<g stroke="#1a1a1a" stroke-width="0.7" stroke-linejoin="miter">
<polygon points="1028.9,115.4 1041.0,81.7 1053.0,115.4" fill="#000004"/>
<rect x="1028.9" y="115.40" width="24.1" height="34.13" fill="#140b34"/>
<rect x="1028.9" y="149.53" width="24.1" height="34.13" fill="#390963"/>
<rect x="1028.9" y="183.65" width="24.1" height="34.13" fill="#5f136e"/>
<rect x="1028.9" y="217.78" width="24.1" height="34.13" fill="#85216b"/>
<rect x="1028.9" y="251.90" width="24.1" height="34.13" fill="#a92e5e"/>
<rect x="1028.9" y="286.03" width="24.1" height="34.13" fill="#cb4149"/>
<rect x="1028.9" y="320.16" width="24.1" height="34.13" fill="#e96230"/>
<rect x="1028.9" y="354.28" width="24.1" height="34.13" fill="#f98a12"/>
<rect x="1028.9" y="388.41" width="24.1" height="34.13" fill="#fdb316"/>
<rect x="1028.9" y="422.53" width="24.1" height="34.13" fill="#fbde4e"/>
<polygon points="1028.9,456.7 1041.0,489.6 1053.0,456.7" fill="#fdffa6"/>
</g>
<text class="tk" x="1060.2" y="121.2">5.0</text>
<text class="tk" x="1060.2" y="155.4">4.5</text>
<text class="tk" x="1060.2" y="189.5">4.0</text>
<text class="tk" x="1060.2" y="223.6">3.5</text>
<text class="tk" x="1060.2" y="257.8">3.0</text>
<text class="tk" x="1060.2" y="291.9">2.5</text>
<text class="tk" x="1060.2" y="326.0">2.0</text>
<text class="tk" x="1060.2" y="360.1">1.5</text>
<text class="tk" x="1060.2" y="394.3">1.0</text>
<text class="tk" x="1060.2" y="428.4">0.5</text>
<text class="tk" x="1060.2" y="462.5">0.1</text>
</g>
</svg></body></html>
